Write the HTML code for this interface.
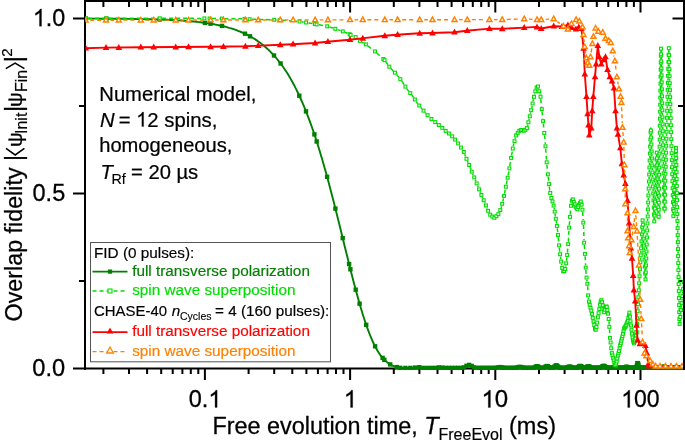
<!DOCTYPE html>
<html><head><meta charset="utf-8"><style>
html,body{margin:0;padding:0;background:#fff;width:685px;height:441px;overflow:hidden}
body{position:relative;font-family:"Liberation Sans",sans-serif}
svg{-webkit-font-smoothing:antialiased;will-change:transform}
</style></head><body>
<svg width="685" height="441" viewBox="0 0 685 441" style="position:absolute;left:0;top:0">
<defs><clipPath id="pc"><rect x="85.6" y="0" width="597.4" height="370"/></clipPath><rect id="sqf" x="-2.2" y="-2.2" width="4.4" height="4.4"/><path id="tri" d="M0,-3.6 L3.3,2.4 L-3.3,2.4 Z"/><path id="trio" d="M0,-2.7 L2.5,1.8 L-2.5,1.8 Z"/></defs>
<g fill="#000">
<rect x="84" y="0" width="601" height="2"/>
<rect x="84" y="0" width="2" height="370"/>
<rect x="683" y="0" width="2" height="370"/>
<rect x="84" y="367.5" width="601" height="2"/>
<rect x="102.4" y="369" width="2" height="5"/>
<rect x="102.4" y="2" width="2" height="5"/>
<rect x="128.0" y="369" width="2" height="5"/>
<rect x="128.0" y="2" width="2" height="5"/>
<rect x="146.1" y="369" width="2" height="5"/>
<rect x="146.1" y="2" width="2" height="5"/>
<rect x="160.2" y="369" width="2" height="5"/>
<rect x="160.2" y="2" width="2" height="5"/>
<rect x="171.7" y="369" width="2" height="5"/>
<rect x="171.7" y="2" width="2" height="5"/>
<rect x="181.4" y="369" width="2" height="5"/>
<rect x="181.4" y="2" width="2" height="5"/>
<rect x="189.8" y="369" width="2" height="5"/>
<rect x="189.8" y="2" width="2" height="5"/>
<rect x="197.3" y="369" width="2" height="5"/>
<rect x="197.3" y="2" width="2" height="5"/>
<rect x="203.9" y="369" width="2" height="11"/>
<rect x="203.9" y="2" width="2" height="10.5"/>
<rect x="247.6" y="369" width="2" height="5"/>
<rect x="247.6" y="2" width="2" height="5"/>
<rect x="273.2" y="369" width="2" height="5"/>
<rect x="273.2" y="2" width="2" height="5"/>
<rect x="291.3" y="369" width="2" height="5"/>
<rect x="291.3" y="2" width="2" height="5"/>
<rect x="305.4" y="369" width="2" height="5"/>
<rect x="305.4" y="2" width="2" height="5"/>
<rect x="316.9" y="369" width="2" height="5"/>
<rect x="316.9" y="2" width="2" height="5"/>
<rect x="326.6" y="369" width="2" height="5"/>
<rect x="326.6" y="2" width="2" height="5"/>
<rect x="335.0" y="369" width="2" height="5"/>
<rect x="335.0" y="2" width="2" height="5"/>
<rect x="342.5" y="369" width="2" height="5"/>
<rect x="342.5" y="2" width="2" height="5"/>
<rect x="349.1" y="369" width="2" height="11"/>
<rect x="349.1" y="2" width="2" height="10.5"/>
<rect x="392.8" y="369" width="2" height="5"/>
<rect x="392.8" y="2" width="2" height="5"/>
<rect x="418.4" y="369" width="2" height="5"/>
<rect x="418.4" y="2" width="2" height="5"/>
<rect x="436.5" y="369" width="2" height="5"/>
<rect x="436.5" y="2" width="2" height="5"/>
<rect x="450.6" y="369" width="2" height="5"/>
<rect x="450.6" y="2" width="2" height="5"/>
<rect x="462.1" y="369" width="2" height="5"/>
<rect x="462.1" y="2" width="2" height="5"/>
<rect x="471.8" y="369" width="2" height="5"/>
<rect x="471.8" y="2" width="2" height="5"/>
<rect x="480.2" y="369" width="2" height="5"/>
<rect x="480.2" y="2" width="2" height="5"/>
<rect x="487.7" y="369" width="2" height="5"/>
<rect x="487.7" y="2" width="2" height="5"/>
<rect x="494.3" y="369" width="2" height="11"/>
<rect x="494.3" y="2" width="2" height="10.5"/>
<rect x="538.0" y="369" width="2" height="5"/>
<rect x="538.0" y="2" width="2" height="5"/>
<rect x="563.6" y="369" width="2" height="5"/>
<rect x="563.6" y="2" width="2" height="5"/>
<rect x="581.7" y="369" width="2" height="5"/>
<rect x="581.7" y="2" width="2" height="5"/>
<rect x="595.8" y="369" width="2" height="5"/>
<rect x="595.8" y="2" width="2" height="5"/>
<rect x="607.3" y="369" width="2" height="5"/>
<rect x="607.3" y="2" width="2" height="5"/>
<rect x="617.0" y="369" width="2" height="5"/>
<rect x="617.0" y="2" width="2" height="5"/>
<rect x="625.4" y="369" width="2" height="5"/>
<rect x="625.4" y="2" width="2" height="5"/>
<rect x="632.9" y="369" width="2" height="5"/>
<rect x="632.9" y="2" width="2" height="5"/>
<rect x="639.5" y="369" width="2" height="11"/>
<rect x="639.5" y="2" width="2" height="10.5"/>
<rect x="73" y="367.5" width="11" height="2"/>
<rect x="672.5" y="367.5" width="11" height="2"/>
<rect x="73" y="192.5" width="11" height="2"/>
<rect x="672.5" y="192.5" width="11" height="2"/>
<rect x="73" y="17.5" width="11" height="2"/>
<rect x="672.5" y="17.5" width="11" height="2"/>
<rect x="79" y="280.0" width="5" height="2"/>
<rect x="678" y="280.0" width="5" height="2"/>
<rect x="79" y="105.0" width="5" height="2"/>
<rect x="678" y="105.0" width="5" height="2"/>
</g>
<g clip-path="url(#pc)">
<polyline points="85.0,18.6 86.5,18.6 88.0,18.6 89.5,18.6 91.0,18.6 92.5,18.6 94.0,18.6 95.5,18.6 97.0,18.6 98.5,18.6 100.0,18.7 101.5,18.7 103.0,18.7 104.5,18.7 106.0,18.7 107.5,18.7 109.0,18.7 110.5,18.7 112.0,18.7 113.5,18.7 115.0,18.8 116.5,18.8 118.0,18.8 119.5,18.8 121.0,18.8 122.5,18.8 124.0,18.8 125.5,18.9 127.0,18.9 128.5,18.9 130.0,18.9 131.5,18.9 133.0,18.9 134.5,19.0 136.0,19.0 137.5,19.0 139.0,19.0 140.5,19.1 142.0,19.1 143.5,19.1 145.0,19.2 146.5,19.2 148.0,19.2 149.5,19.3 151.0,19.3 152.5,19.3 154.0,19.4 155.5,19.4 157.0,19.5 158.5,19.5 160.0,19.6 161.5,19.6 163.0,19.7 164.5,19.7 166.0,19.8 167.5,19.8 169.0,19.9 170.5,20.0 172.0,20.0 173.5,20.1 175.0,20.2 176.5,20.3 178.0,20.4 179.5,20.4 181.0,20.5 182.5,20.6 184.0,20.7 185.5,20.9 187.0,21.0 188.5,21.1 190.0,21.2 191.5,21.3 193.0,21.5 194.5,21.6 196.0,21.8 197.5,21.9 199.0,22.1 200.5,22.3 202.0,22.5 203.5,22.7 205.0,22.9 206.5,23.1 208.0,23.3 209.5,23.5 211.0,23.8 212.5,24.0 214.0,24.3 215.5,24.6 217.0,24.9 218.5,25.2 220.0,25.5 221.5,25.8 223.0,26.2 224.5,26.5 226.0,26.9 227.5,27.3 229.0,27.8 230.5,28.2 232.0,28.7 233.5,29.2 235.0,29.7 236.5,30.2 238.0,30.8 239.5,31.4 241.0,32.0 242.5,32.6 244.0,33.3 245.5,34.0 247.0,34.7 248.5,35.5 250.0,36.3 251.5,37.1 253.0,38.0 254.5,38.9 256.0,39.9 257.5,40.9 259.0,42.0 260.5,43.1 262.0,44.2 263.5,45.4 265.0,46.7 266.5,48.0 268.0,49.4 269.5,50.8 271.0,52.3 272.5,53.9 274.0,55.5 275.5,57.2 277.0,59.0 278.5,60.8 280.0,62.7 281.5,64.7 283.0,66.8 284.5,69.0 286.0,71.3 287.5,73.6 289.0,76.1 290.5,78.6 292.0,81.3 293.5,84.0 295.0,86.9 296.5,89.9 298.0,93.0 299.5,96.1 301.0,99.5 302.5,102.9 304.0,106.4 305.5,110.1 307.0,113.9 308.5,117.8 310.0,121.8 311.5,126.0 313.0,130.3 314.5,134.7 316.0,139.3 317.5,144.0 319.0,148.8 320.5,153.7 322.0,158.8 323.5,163.9 325.0,169.2 326.5,174.6 328.0,180.1 329.5,185.7 331.0,191.4 332.5,197.2 334.0,203.0 335.5,209.0 337.0,215.0 338.5,221.0 340.0,227.1 341.5,233.2 343.0,239.3 344.5,245.4 346.0,251.5 347.5,257.6 349.0,263.7 350.5,269.7 352.0,275.6 353.5,281.4 355.0,287.1 356.5,292.7 358.0,298.1 359.5,303.4 361.0,308.5 362.5,313.5 364.0,318.2 365.5,322.7 367.0,327.1 368.5,331.2 370.0,335.0 371.5,338.6 373.0,342.0 374.5,345.1 376.0,348.0 377.5,350.7 379.0,353.1 380.5,355.3 382.0,357.2 383.5,358.9 385.0,360.5 386.5,361.8 388.0,363.0 389.5,364.0 391.0,364.9 392.5,365.6 394.0,366.2 395.5,366.7 397.0,367.1 398.5,367.4 400.0,367.7 401.0,367.9 401.7,367.9 402.4,367.9 403.1,367.9 403.8,367.9 404.5,367.9 405.2,367.9 405.9,367.9 406.6,367.9 407.3,367.9 408.0,367.9 408.7,367.9 409.4,367.9 410.1,367.9 410.8,367.9 411.5,367.9 412.2,367.9 412.9,367.9 413.6,367.9 414.3,367.8 415.0,367.6 415.7,367.4 416.4,367.3 417.1,367.2 417.8,367.1 418.5,367.1 419.2,367.2 419.9,367.4 420.6,367.5 421.3,367.7 422.0,367.8 422.7,367.9 423.4,367.9 424.1,367.9 424.8,367.9 425.5,367.9 426.2,367.9 426.9,367.9 427.6,367.9 428.3,367.9 429.0,367.9 429.7,367.9 430.4,367.9 431.1,367.9 431.8,367.9 432.5,367.9 433.2,367.9 433.9,367.9 434.6,367.9 435.3,367.9 436.0,367.8 436.7,367.7 437.4,367.6 438.1,367.5 438.8,367.4 439.5,367.3 440.2,367.3 440.9,367.3 441.6,367.4 442.3,367.6 443.0,367.7 443.7,367.8 444.4,367.9 445.1,367.9 445.8,367.9 446.5,367.9 447.2,367.9 447.9,367.9 448.6,367.9 449.3,367.9 450.0,367.9 450.7,367.9 451.4,367.9 452.1,367.9 452.8,367.9 453.5,367.9 454.2,367.9 454.9,367.9 455.6,367.9 456.3,367.9 457.0,367.9 457.7,367.9 458.4,367.9 459.1,367.9 459.8,367.9 460.5,367.9 461.2,367.9 461.9,367.9 462.6,367.8 463.3,367.7 464.0,367.3 464.7,366.9 465.4,366.5 466.1,366.0 466.8,365.6 467.5,365.2 468.2,365.0 468.9,364.9 469.6,365.0 470.3,365.1 471.0,365.5 471.7,365.9 472.4,366.3 473.1,366.8 473.8,367.2 474.5,367.6 475.2,367.8 475.9,367.9 476.6,367.9 477.3,367.9 478.0,367.9 478.7,367.9 479.4,367.9 480.1,367.9 480.8,367.9 481.5,367.9 482.2,367.9 482.9,367.9 483.6,367.9 484.3,367.9 485.0,367.9 485.7,367.9 486.4,367.9 487.1,367.9 487.8,367.9 488.5,367.9 489.2,367.9 489.9,367.9 490.6,367.9 491.3,367.9 492.0,367.9 492.7,367.9 493.4,367.9 494.1,367.9 494.8,367.9 495.5,367.9 496.2,367.8 496.9,367.6 497.6,367.5 498.3,367.3 499.0,367.2 499.7,367.1 500.4,367.1 501.1,367.2 501.8,367.3 502.5,367.5 503.2,367.7 503.9,367.8 504.6,367.9 505.3,367.9 506.0,367.9 506.7,367.9 507.4,367.9 508.1,367.9 508.8,367.9 509.5,367.9 510.2,367.9 510.9,367.9 511.6,367.9 512.3,367.9 513.0,367.9 513.7,367.9 514.4,367.9 515.1,367.9 515.8,367.8 516.5,367.7 517.2,367.5 517.9,367.3 518.6,367.1 519.3,366.9 520.0,366.9 520.7,366.9 521.4,367.1 522.1,367.3 522.8,367.5 523.5,367.7 524.2,367.8 524.9,367.9 525.6,367.9 526.3,367.9 527.0,367.9 527.7,367.9 528.4,367.9 529.1,367.9 529.8,367.9 530.5,367.9 531.2,367.9 531.9,367.9 532.6,367.9 533.3,367.9 534.0,367.8 534.7,367.4 535.4,366.9 536.1,366.4 536.8,366.1 537.5,366.2 538.2,366.6 538.9,367.1 539.6,367.6 540.3,367.9 541.0,367.9 541.7,367.9 542.4,367.9 543.1,367.9 543.8,367.9 544.5,367.5 545.2,366.9 545.9,366.3 546.6,366.0 547.3,365.9 548.0,366.3 548.7,366.9 549.4,367.5 550.1,367.8 550.8,367.9 551.5,367.9 552.2,367.9 552.9,367.9 553.6,367.6 554.3,366.9 555.0,366.1 555.7,365.5 556.4,365.3 557.1,365.6 557.8,366.3 558.5,367.1 559.2,367.7 559.9,367.9 560.6,367.9 561.3,367.9 562.0,367.9 562.7,367.9 563.4,367.9 564.1,367.9 564.8,367.9 565.5,367.9 566.2,367.9 566.9,367.8 567.6,367.5 568.3,367.0 569.0,366.7 569.7,366.6 570.4,366.7 571.1,367.0 571.8,367.5 572.5,367.8 573.2,367.9 573.9,367.9 574.6,367.9 575.3,367.9 576.0,367.9 576.7,367.9 577.4,367.7 578.1,367.2 578.8,366.6 579.5,366.1 580.2,365.9 580.9,366.1 581.6,366.6 582.3,367.2 583.0,367.7 583.7,367.9 584.4,367.9 585.1,367.9 585.8,367.7 586.5,367.2 587.2,366.7 587.9,366.4 588.6,366.3 589.3,366.5 590.0,367.0 590.7,367.5 591.4,367.8 592.1,367.9 592.8,367.9 593.5,367.9 594.2,367.9 594.9,367.9 595.6,367.9 596.3,367.9 597.0,367.9 597.7,367.9 598.4,367.9 599.1,367.9 599.8,367.9 600.5,367.8 601.2,367.5 601.9,366.9 602.6,366.3 603.3,365.9 604.0,366.0 604.7,366.3 605.4,366.9 606.1,367.5 606.8,367.9 607.5,367.9 608.2,367.9 608.9,367.9 609.6,367.9 610.3,367.9 611.0,367.9 611.7,367.9 612.4,367.9 613.1,367.9 613.8,367.9 614.5,367.9 615.2,367.9 615.9,367.9 616.6,367.9 617.3,367.9 618.0,367.9 618.7,367.9 619.4,367.9 620.1,367.9 620.8,367.9 621.5,367.9 622.2,367.9 622.9,367.9 623.6,367.9 624.3,367.8 625.0,367.5 625.7,367.1 626.4,366.9 627.1,367.0 627.8,367.2 628.5,367.6 629.2,367.9 629.9,367.9 630.6,367.9 631.3,367.9 632.0,367.9 632.7,367.9 633.4,367.9 634.1,367.9 634.8,367.9 635.5,367.9 636.2,367.8 636.9,365.1 637.6,362.5 638.3,364.1 639.0,367.4 639.7,367.9 640.4,367.9 641.1,367.9 641.8,367.9 642.5,367.9 643.2,367.9 643.9,367.9 644.6,367.9 645.3,367.9 646.0,367.9 646.7,367.9 647.4,367.9 648.1,367.9 648.8,367.9 649.5,367.9 650.2,367.9 650.9,367.9 651.6,367.9 652.3,367.9 653.0,367.9 653.7,367.9 654.4,367.9 655.1,367.9 655.8,367.9 656.5,367.9 657.2,367.9 657.9,367.9 658.6,367.9 659.3,367.9 660.0,367.9 660.7,367.9 661.4,367.9 662.1,367.6 662.8,367.2 663.5,367.0 664.2,366.9 664.9,367.1 665.6,367.5 666.3,367.8 667.0,367.9 667.7,367.9 668.4,367.9 669.1,367.9 669.8,367.9 670.5,367.9 671.2,367.9 671.9,367.9 672.6,367.9 673.3,367.9 674.0,367.7 674.7,367.4 675.4,367.2 676.1,367.1 676.8,367.2 677.5,367.5 678.2,367.8 678.9,367.9 679.6,367.9 680.3,367.9 681.0,367.9 681.7,367.9 682.4,367.9 683.1,367.9 683.8,367.9" fill="none" stroke="#008000" stroke-width="1.9" stroke-linejoin="round"/>
<g fill="#008000"><use href="#sqf" x="85.6" y="18.6"/><use href="#sqf" x="106.3" y="18.7"/><use href="#sqf" x="159.7" y="19.5"/><use href="#sqf" x="205.0" y="22.9"/><use href="#sqf" x="210.5" y="23.7"/><use href="#sqf" x="222.0" y="25.9"/><use href="#sqf" x="245.0" y="33.7"/><use href="#sqf" x="250.0" y="36.3"/><use href="#sqf" x="274.0" y="55.5"/><use href="#sqf" x="280.6" y="63.5"/><use href="#sqf" x="299.3" y="95.7"/><use href="#sqf" x="306.0" y="111.4"/><use href="#sqf" x="314.4" y="134.4"/><use href="#sqf" x="316.7" y="141.5"/><use href="#sqf" x="327.1" y="176.8"/><use href="#sqf" x="335.4" y="208.6"/><use href="#sqf" x="342.7" y="238.1"/><use href="#sqf" x="349.1" y="264.1"/><use href="#sqf" x="350.4" y="269.3"/><use href="#sqf" x="355.7" y="289.7"/><use href="#sqf" x="359.6" y="303.7"/><use href="#sqf" x="366.2" y="324.8"/><use href="#sqf" x="375.1" y="346.3"/><use href="#sqf" x="382.6" y="357.9"/><use href="#sqf" x="384.3" y="359.8"/><use href="#sqf" x="390.2" y="364.4"/><use href="#sqf" x="396.8" y="367.1"/><use href="#sqf" x="400.3" y="367.8"/><use href="#sqf" x="405.4" y="367.9"/><use href="#sqf" x="410.3" y="367.9"/><use href="#sqf" x="414.9" y="367.6"/><use href="#sqf" x="419.3" y="367.2"/><use href="#sqf" x="423.5" y="367.9"/><use href="#sqf" x="427.6" y="367.9"/><use href="#sqf" x="431.5" y="367.9"/><use href="#sqf" x="435.2" y="367.9"/><use href="#sqf" x="438.8" y="367.4"/><use href="#sqf" x="442.3" y="367.6"/><use href="#sqf" x="445.7" y="367.9"/><use href="#sqf" x="448.9" y="367.9"/><use href="#sqf" x="452.1" y="367.9"/><use href="#sqf" x="455.1" y="367.9"/><use href="#sqf" x="458.1" y="367.9"/><use href="#sqf" x="461.0" y="367.9"/><use href="#sqf" x="463.8" y="367.4"/><use href="#sqf" x="466.5" y="365.8"/><use href="#sqf" x="469.1" y="364.9"/><use href="#sqf" x="471.7" y="365.9"/><use href="#sqf" x="474.2" y="367.4"/><use href="#sqf" x="476.7" y="367.9"/><use href="#sqf" x="479.1" y="367.9"/><use href="#sqf" x="481.4" y="367.9"/><use href="#sqf" x="483.7" y="367.9"/><use href="#sqf" x="485.9" y="367.9"/><use href="#sqf" x="488.1" y="367.9"/><use href="#sqf" x="490.2" y="367.9"/><use href="#sqf" x="492.3" y="367.9"/><use href="#sqf" x="494.4" y="367.9"/><use href="#sqf" x="496.4" y="367.8"/><use href="#sqf" x="498.4" y="367.3"/><use href="#sqf" x="500.3" y="367.1"/><use href="#sqf" x="502.2" y="367.4"/><use href="#sqf" x="504.0" y="367.8"/><use href="#sqf" x="505.8" y="367.9"/><use href="#sqf" x="507.6" y="367.9"/><use href="#sqf" x="509.4" y="367.9"/><use href="#sqf" x="511.1" y="367.9"/><use href="#sqf" x="512.8" y="367.9"/><use href="#sqf" x="514.5" y="367.9"/><use href="#sqf" x="516.1" y="367.8"/><use href="#sqf" x="517.7" y="367.3"/><use href="#sqf" x="519.3" y="366.9"/><use href="#sqf" x="520.9" y="367.0"/><use href="#sqf" x="522.4" y="367.4"/><use href="#sqf" x="523.9" y="367.8"/><use href="#sqf" x="525.4" y="367.9"/><use href="#sqf" x="526.9" y="367.9"/><use href="#sqf" x="528.4" y="367.9"/><use href="#sqf" x="529.8" y="367.9"/><use href="#sqf" x="531.2" y="367.9"/><use href="#sqf" x="532.6" y="367.9"/><use href="#sqf" x="534.0" y="367.8"/><use href="#sqf" x="535.3" y="367.0"/><use href="#sqf" x="536.6" y="366.2"/><use href="#sqf" x="538.0" y="366.4"/><use href="#sqf" x="539.3" y="367.4"/><use href="#sqf" x="540.5" y="367.9"/><use href="#sqf" x="541.8" y="367.9"/><use href="#sqf" x="543.0" y="367.9"/><use href="#sqf" x="544.3" y="367.6"/><use href="#sqf" x="545.5" y="366.7"/><use href="#sqf" x="546.7" y="366.0"/><use href="#sqf" x="547.9" y="366.2"/><use href="#sqf" x="549.1" y="367.2"/><use href="#sqf" x="550.2" y="367.8"/><use href="#sqf" x="551.4" y="367.9"/><use href="#sqf" x="552.5" y="367.9"/><use href="#sqf" x="553.6" y="367.5"/><use href="#sqf" x="554.7" y="366.4"/><use href="#sqf" x="555.8" y="365.4"/><use href="#sqf" x="556.9" y="365.5"/><use href="#sqf" x="558.0" y="366.5"/><use href="#sqf" x="559.1" y="367.6"/><use href="#sqf" x="560.1" y="367.9"/><use href="#sqf" x="561.1" y="367.9"/><use href="#sqf" x="562.2" y="367.9"/><use href="#sqf" x="563.2" y="367.9"/><use href="#sqf" x="564.2" y="367.9"/><use href="#sqf" x="565.2" y="367.9"/><use href="#sqf" x="566.2" y="367.9"/><use href="#sqf" x="567.2" y="367.7"/><use href="#sqf" x="568.1" y="367.1"/><use href="#sqf" x="569.1" y="366.7"/><use href="#sqf" x="570.0" y="366.7"/><use href="#sqf" x="571.0" y="367.0"/><use href="#sqf" x="571.9" y="367.5"/><use href="#sqf" x="572.8" y="367.8"/><use href="#sqf" x="573.8" y="367.9"/><use href="#sqf" x="574.7" y="367.9"/><use href="#sqf" x="575.6" y="367.9"/><use href="#sqf" x="576.5" y="367.9"/><use href="#sqf" x="577.3" y="367.7"/><use href="#sqf" x="578.2" y="367.1"/><use href="#sqf" x="579.1" y="366.4"/><use href="#sqf" x="579.9" y="366.0"/><use href="#sqf" x="580.8" y="366.1"/><use href="#sqf" x="581.6" y="366.6"/><use href="#sqf" x="582.5" y="367.3"/><use href="#sqf" x="583.3" y="367.8"/><use href="#sqf" x="584.1" y="367.9"/><use href="#sqf" x="584.9" y="367.9"/><use href="#sqf" x="585.8" y="367.7"/><use href="#sqf" x="586.6" y="367.2"/><use href="#sqf" x="587.4" y="366.6"/><use href="#sqf" x="588.1" y="366.4"/><use href="#sqf" x="588.9" y="366.4"/><use href="#sqf" x="589.7" y="366.8"/><use href="#sqf" x="590.5" y="367.3"/><use href="#sqf" x="591.2" y="367.7"/><use href="#sqf" x="592.0" y="367.9"/><use href="#sqf" x="592.8" y="367.9"/><use href="#sqf" x="593.5" y="367.9"/><use href="#sqf" x="594.3" y="367.9"/><use href="#sqf" x="595.0" y="367.9"/><use href="#sqf" x="595.7" y="367.9"/><use href="#sqf" x="596.5" y="367.9"/><use href="#sqf" x="597.2" y="367.9"/><use href="#sqf" x="597.9" y="367.9"/><use href="#sqf" x="598.6" y="367.9"/><use href="#sqf" x="599.3" y="367.9"/><use href="#sqf" x="600.0" y="367.9"/><use href="#sqf" x="600.7" y="367.7"/><use href="#sqf" x="601.4" y="367.3"/><use href="#sqf" x="602.1" y="366.7"/><use href="#sqf" x="602.8" y="366.2"/><use href="#sqf" x="603.4" y="365.9"/><use href="#sqf" x="604.1" y="366.0"/><use href="#sqf" x="604.8" y="366.4"/><use href="#sqf" x="605.5" y="367.0"/><use href="#sqf" x="606.1" y="367.5"/><use href="#sqf" x="606.8" y="367.8"/><use href="#sqf" x="607.4" y="367.9"/><use href="#sqf" x="608.1" y="367.9"/><use href="#sqf" x="608.7" y="367.9"/><use href="#sqf" x="609.3" y="367.9"/><use href="#sqf" x="610.0" y="367.9"/><use href="#sqf" x="610.6" y="367.9"/><use href="#sqf" x="611.2" y="367.9"/><use href="#sqf" x="611.9" y="367.9"/><use href="#sqf" x="612.5" y="367.9"/><use href="#sqf" x="613.1" y="367.9"/><use href="#sqf" x="613.7" y="367.9"/><use href="#sqf" x="614.3" y="367.9"/><use href="#sqf" x="614.9" y="367.9"/><use href="#sqf" x="615.5" y="367.9"/><use href="#sqf" x="616.1" y="367.9"/><use href="#sqf" x="616.7" y="367.9"/><use href="#sqf" x="617.3" y="367.9"/><use href="#sqf" x="617.9" y="367.9"/><use href="#sqf" x="618.5" y="367.9"/><use href="#sqf" x="619.0" y="367.9"/><use href="#sqf" x="619.6" y="367.9"/><use href="#sqf" x="620.2" y="367.9"/><use href="#sqf" x="620.8" y="367.9"/><use href="#sqf" x="621.3" y="367.9"/><use href="#sqf" x="621.9" y="367.9"/><use href="#sqf" x="622.4" y="367.9"/><use href="#sqf" x="623.0" y="367.9"/><use href="#sqf" x="623.6" y="367.9"/><use href="#sqf" x="624.1" y="367.8"/><use href="#sqf" x="624.7" y="367.6"/><use href="#sqf" x="625.2" y="367.4"/><use href="#sqf" x="625.7" y="367.1"/><use href="#sqf" x="626.3" y="366.9"/><use href="#sqf" x="626.8" y="366.9"/><use href="#sqf" x="627.3" y="367.1"/><use href="#sqf" x="627.9" y="367.3"/><use href="#sqf" x="628.4" y="367.6"/><use href="#sqf" x="628.9" y="367.8"/><use href="#sqf" x="629.4" y="367.9"/><use href="#sqf" x="630.0" y="367.9"/><use href="#sqf" x="630.5" y="367.9"/><use href="#sqf" x="631.0" y="367.9"/><use href="#sqf" x="631.5" y="367.9"/><use href="#sqf" x="632.0" y="367.9"/><use href="#sqf" x="632.5" y="367.9"/><use href="#sqf" x="633.0" y="367.9"/><use href="#sqf" x="633.5" y="367.9"/><use href="#sqf" x="634.0" y="367.9"/><use href="#sqf" x="634.5" y="367.9"/><use href="#sqf" x="635.0" y="367.9"/><use href="#sqf" x="635.5" y="367.9"/><use href="#sqf" x="636.0" y="367.9"/><use href="#sqf" x="636.5" y="366.8"/><use href="#sqf" x="637.0" y="365.0"/><use href="#sqf" x="637.4" y="363.1"/><use href="#sqf" x="637.9" y="363.2"/><use href="#sqf" x="638.4" y="364.5"/><use href="#sqf" x="638.9" y="366.8"/><use href="#sqf" x="639.3" y="367.7"/><use href="#sqf" x="639.8" y="367.9"/><use href="#sqf" x="640.3" y="367.9"/><use href="#sqf" x="640.7" y="367.9"/><use href="#sqf" x="641.2" y="367.9"/><use href="#sqf" x="641.7" y="367.9"/><use href="#sqf" x="642.1" y="367.9"/><use href="#sqf" x="642.6" y="367.9"/><use href="#sqf" x="643.0" y="367.9"/><use href="#sqf" x="643.5" y="367.9"/><use href="#sqf" x="643.9" y="367.9"/><use href="#sqf" x="644.4" y="367.9"/><use href="#sqf" x="644.8" y="367.9"/><use href="#sqf" x="645.3" y="367.9"/><use href="#sqf" x="645.7" y="367.9"/><use href="#sqf" x="646.1" y="367.9"/><use href="#sqf" x="646.6" y="367.9"/><use href="#sqf" x="647.0" y="367.9"/><use href="#sqf" x="647.5" y="367.9"/><use href="#sqf" x="647.9" y="367.9"/><use href="#sqf" x="648.3" y="367.9"/><use href="#sqf" x="648.8" y="367.9"/><use href="#sqf" x="649.2" y="367.9"/><use href="#sqf" x="649.6" y="367.9"/><use href="#sqf" x="650.0" y="367.9"/><use href="#sqf" x="650.4" y="367.9"/><use href="#sqf" x="650.9" y="367.9"/><use href="#sqf" x="651.3" y="367.9"/><use href="#sqf" x="651.7" y="367.9"/><use href="#sqf" x="652.1" y="367.9"/><use href="#sqf" x="652.5" y="367.9"/><use href="#sqf" x="652.9" y="367.9"/><use href="#sqf" x="653.3" y="367.9"/><use href="#sqf" x="653.8" y="367.9"/><use href="#sqf" x="654.2" y="367.9"/><use href="#sqf" x="654.6" y="367.9"/><use href="#sqf" x="655.0" y="367.9"/><use href="#sqf" x="655.4" y="367.9"/><use href="#sqf" x="655.8" y="367.9"/><use href="#sqf" x="656.2" y="367.9"/><use href="#sqf" x="656.6" y="367.9"/><use href="#sqf" x="657.0" y="367.9"/><use href="#sqf" x="657.4" y="367.9"/><use href="#sqf" x="657.7" y="367.9"/><use href="#sqf" x="658.1" y="367.9"/><use href="#sqf" x="658.5" y="367.9"/><use href="#sqf" x="658.9" y="367.9"/><use href="#sqf" x="659.3" y="367.9"/><use href="#sqf" x="659.7" y="367.9"/><use href="#sqf" x="660.1" y="367.9"/><use href="#sqf" x="660.4" y="367.9"/><use href="#sqf" x="660.8" y="367.9"/><use href="#sqf" x="661.2" y="367.9"/><use href="#sqf" x="661.6" y="367.8"/><use href="#sqf" x="662.0" y="367.7"/><use href="#sqf" x="662.3" y="367.5"/><use href="#sqf" x="662.7" y="367.3"/><use href="#sqf" x="663.1" y="367.1"/><use href="#sqf" x="663.4" y="367.0"/><use href="#sqf" x="663.8" y="366.9"/><use href="#sqf" x="664.2" y="366.9"/><use href="#sqf" x="664.5" y="367.0"/><use href="#sqf" x="664.9" y="367.1"/><use href="#sqf" x="665.3" y="367.3"/><use href="#sqf" x="665.6" y="367.5"/><use href="#sqf" x="666.0" y="367.6"/><use href="#sqf" x="666.4" y="367.8"/><use href="#sqf" x="666.7" y="367.8"/><use href="#sqf" x="667.1" y="367.9"/><use href="#sqf" x="667.4" y="367.9"/><use href="#sqf" x="667.8" y="367.9"/><use href="#sqf" x="668.1" y="367.9"/><use href="#sqf" x="668.5" y="367.9"/><use href="#sqf" x="668.8" y="367.9"/><use href="#sqf" x="669.2" y="367.9"/><use href="#sqf" x="669.5" y="367.9"/><use href="#sqf" x="669.9" y="367.9"/><use href="#sqf" x="670.2" y="367.9"/><use href="#sqf" x="670.6" y="367.9"/><use href="#sqf" x="670.9" y="367.9"/><use href="#sqf" x="671.2" y="367.9"/><use href="#sqf" x="671.6" y="367.9"/><use href="#sqf" x="671.9" y="367.9"/><use href="#sqf" x="672.3" y="367.9"/><use href="#sqf" x="672.6" y="367.9"/><use href="#sqf" x="672.9" y="367.9"/><use href="#sqf" x="673.3" y="367.9"/><use href="#sqf" x="673.6" y="367.8"/><use href="#sqf" x="673.9" y="367.7"/><use href="#sqf" x="674.3" y="367.6"/><use href="#sqf" x="674.6" y="367.5"/><use href="#sqf" x="674.9" y="367.3"/><use href="#sqf" x="675.3" y="367.2"/><use href="#sqf" x="675.6" y="367.2"/><use href="#sqf" x="675.9" y="367.1"/><use href="#sqf" x="676.2" y="367.1"/><use href="#sqf" x="676.6" y="367.2"/><use href="#sqf" x="676.9" y="367.3"/><use href="#sqf" x="677.2" y="367.4"/><use href="#sqf" x="677.5" y="367.5"/><use href="#sqf" x="677.8" y="367.6"/><use href="#sqf" x="678.2" y="367.8"/><use href="#sqf" x="678.5" y="367.8"/><use href="#sqf" x="678.8" y="367.9"/><use href="#sqf" x="679.1" y="367.9"/><use href="#sqf" x="679.4" y="367.9"/><use href="#sqf" x="679.7" y="367.9"/><use href="#sqf" x="680.1" y="367.9"/><use href="#sqf" x="680.4" y="367.9"/><use href="#sqf" x="680.7" y="367.9"/><use href="#sqf" x="681.0" y="367.9"/><use href="#sqf" x="681.3" y="367.9"/><use href="#sqf" x="681.6" y="367.9"/><use href="#sqf" x="681.9" y="367.9"/><use href="#sqf" x="682.2" y="367.9"/><use href="#sqf" x="682.5" y="367.9"/><use href="#sqf" x="682.8" y="367.9"/><use href="#sqf" x="683.1" y="367.9"/><use href="#sqf" x="683.4" y="367.9"/><use href="#sqf" x="683.7" y="367.9"/></g>
<g fill="none" stroke="#00dd00" stroke-width="1.5" stroke-dasharray="4 3" stroke-linejoin="round"><polyline points="88.00,18.30 103.90,18.30"/><polyline points="108.70,18.30 157.30,18.30"/><polyline points="162.10,18.31 202.00,18.39"/><polyline points="212.00,18.52 219.60,18.58"/><polyline points="224.40,18.63 242.20,18.87"/><polyline points="252.00,19.26 271.80,19.74"/><polyline points="276.59,19.98 277.21,20.02"/><polyline points="281.99,20.36 297.11,21.34"/><polyline points="301.87,21.86 303.73,22.14"/><polyline points="308.47,22.91 312.43,23.59"/><polyline points="318.96,24.82 324.84,25.88"/><polyline points="329.49,27.01 333.01,28.09"/><polyline points="337.57,29.59 340.53,30.61"/><polyline points="345.02,32.31 347.38,33.29"/><polyline points="352.80,35.85 353.50,36.15"/><polyline points="357.52,38.67 358.28,39.33"/><polyline points="362.15,42.14 363.85,43.16"/><polyline points="367.80,45.86 373.10,49.94"/><polyline points="376.78,53.01 381.62,57.39"/><polyline points="386.01,62.14 387.89,64.76"/><polyline points="390.95,68.44 393.30,70.92"/><polyline points="396.61,74.41 398.86,77.35"/><polyline points="401.78,81.16 402.20,81.70 404.10,84.61"/><polyline points="406.73,88.63 407.30,89.50 408.75,91.28"/><polyline points="411.77,95.00 412.50,95.90 413.55,97.49"/><polyline points="416.20,101.50 416.80,102.40 417.80,103.67"/><polyline points="420.80,107.41 421.97,108.80"/><polyline points="425.08,112.45 425.97,113.44"/><polyline points="464.66,154.16 465.60,156.55"/><polyline points="467.43,160.99 468.20,162.79"/><polyline points="470.00,167.24 470.84,169.43"/><polyline points="472.68,173.86 473.27,175.19"/><polyline points="475.15,179.61 475.79,181.19"/><polyline points="477.58,185.64 478.18,187.13"/><polyline points="479.98,191.58 480.47,192.74"/><polyline points="482.35,197.15 482.50,197.50 482.73,198.02"/><polyline points="484.66,202.41 485.00,203.19"/><polyline points="486.82,207.63 487.21,208.59"/><polyline points="501.14,207.88 501.58,206.15"/><polyline points="502.76,201.49 503.50,198.60 503.56,198.29"/><polyline points="504.49,193.58 505.38,189.03"/><polyline points="506.32,184.32 507.17,180.07"/><polyline points="508.11,175.37 508.90,171.40 509.00,170.77"/><polyline points="509.78,166.03 510.73,160.27"/><polyline points="511.52,155.54 512.38,150.90"/><polyline points="513.25,146.18 513.60,144.30 513.83,143.51"/><polyline points="515.14,138.89 515.47,137.77"/><polyline points="527.53,125.80 527.80,124.63"/><polyline points="528.92,119.96 529.24,118.62"/><polyline points="530.33,113.94 530.66,112.52"/><polyline points="531.73,107.84 532.12,105.83"/><polyline points="533.05,101.12 533.43,99.19"/><polyline points="534.53,94.52 534.74,93.67"/><polyline points="539.89,93.53 540.11,94.35"/><polyline points="540.78,99.09 541.50,106.20 541.55,106.69"/><polyline points="542.04,111.46 542.80,118.76"/><polyline points="543.29,123.54 543.30,123.60 544.03,130.52"/><polyline points="544.53,135.29 545.10,140.70 545.33,143.91"/><polyline points="545.67,148.70 546.20,156.20 546.50,159.91"/><polyline points="546.90,164.70 547.30,169.60 547.59,171.94"/><polyline points="548.19,176.70 548.80,181.60 548.82,181.75"/><polyline points="549.31,186.52 549.70,190.20 549.78,190.61"/><polyline points="554.20,207.91 554.30,208.30 554.42,209.24"/><polyline points="555.05,214.00 555.20,215.10 555.43,216.41"/><polyline points="556.25,221.14 556.50,222.60 556.62,223.56"/><polyline points="557.22,228.32 557.70,232.10 557.76,232.66"/><polyline points="558.23,237.44 558.60,241.10 558.80,242.95"/><polyline points="559.31,247.72 559.70,251.30 559.78,251.85"/><polyline points="560.44,256.60 560.79,259.14"/><polyline points="561.50,263.89 561.74,265.45"/><polyline points="565.65,266.69 565.85,265.68"/><polyline points="566.47,260.92 566.89,257.37"/><polyline points="567.39,252.60 567.92,246.56"/><polyline points="568.33,241.77 568.93,230.03"/><polyline points="569.30,225.24 569.83,219.23"/><polyline points="570.25,214.45 570.78,208.17"/><polyline points="582.63,212.07 583.00,217.40 583.16,220.16"/><polyline points="583.44,224.95 583.70,229.40 584.04,240.24"/><polyline points="584.30,245.03 584.77,251.48"/><polyline points="585.12,256.27 585.30,258.80 585.63,265.19"/><polyline points="585.88,269.98 586.00,272.40 586.30,275.18"/><polyline points="586.84,279.95 587.04,281.42"/><polyline points="587.57,286.19 587.97,293.00"/><polyline points="588.34,297.79 588.45,299.23"/><polyline points="609.00,321.36 609.10,322.20 609.22,324.46"/><polyline points="609.48,329.25 609.81,335.42"/><polyline points="610.92,344.86 611.02,345.85"/><polyline points="636.63,329.80 636.75,327.61"/><polyline points="637.08,321.59 637.13,320.62"/><polyline points="637.40,315.82 637.52,313.63"/><polyline points="637.78,308.84 637.90,306.64"/><polyline points="638.16,301.85 638.28,299.65"/><polyline points="638.55,294.86 638.67,292.66"/><polyline points="638.93,287.87 639.05,285.67"/><polyline points="639.31,280.88 639.43,278.68"/><polyline points="639.69,273.89 639.81,271.69"/><polyline points="640.08,266.90 640.20,264.70"/><polyline points="640.46,259.91 640.58,257.71"/><polyline points="640.84,252.92 640.96,250.72"/><polyline points="641.23,245.93 641.35,243.73"/><polyline points="641.61,238.94 641.73,236.74"/><polyline points="641.99,231.95 642.11,229.75"/><polyline points="642.37,224.96 642.49,222.76"/><polyline points="642.75,220.03 642.85,222.23"/><polyline points="643.07,227.02 643.17,229.22"/><polyline points="643.39,234.01 643.49,236.21"/><polyline points="643.71,241.01 643.81,243.20"/><polyline points="644.03,248.00 644.13,250.20"/><polyline points="644.35,254.99 644.45,257.19"/><polyline points="644.67,261.99 644.77,264.18"/><polyline points="644.99,268.98 645.09,271.18"/><polyline points="645.32,275.97 645.36,277.04"/><polyline points="645.56,278.17 645.68,274.84"/><polyline points="645.85,270.04 645.92,267.84"/><polyline points="646.09,263.04 646.17,260.85"/><polyline points="646.34,256.05 646.41,253.85"/><polyline points="646.58,249.05 646.66,246.85"/><polyline points="646.82,242.06 646.90,239.86"/><polyline points="647.07,235.06 647.14,232.86"/><polyline points="647.31,228.07 647.39,225.87"/><polyline points="647.55,221.07 647.63,218.87"/><polyline points="647.80,214.07 647.88,211.88"/><polyline points="648.04,207.08 648.12,204.88"/><polyline points="648.29,200.08 648.36,197.88"/><polyline points="648.53,193.09 648.61,190.89"/><polyline points="648.77,186.09 648.85,183.89"/><polyline points="649.02,179.10 649.10,176.90"/><polyline points="649.26,172.10 649.34,169.90"/><polyline points="649.51,165.10 649.58,162.91"/><polyline points="649.75,158.11 649.83,155.91"/><polyline points="649.99,151.11 650.07,148.91"/><polyline points="650.24,144.12 650.31,141.92"/><polyline points="650.48,137.12 650.56,134.92"/><polyline points="650.73,130.12 650.80,128.00 650.80,128.07"/><polyline points="650.98,132.87 651.06,135.07"/><polyline points="651.24,139.87 651.32,142.06"/><polyline points="651.50,146.86 651.58,149.06"/><polyline points="651.76,153.86 651.84,156.05"/><polyline points="652.02,160.85 652.11,163.05"/><polyline points="652.28,167.85 652.37,170.04"/><polyline points="652.54,174.84 652.63,177.04"/><polyline points="652.80,181.84 652.89,184.03"/><polyline points="653.07,188.83 653.15,191.03"/><polyline points="653.33,195.83 653.41,198.03"/><polyline points="653.59,202.82 653.67,205.02"/><polyline points="653.85,209.82 653.93,212.02"/><polyline points="654.11,216.81 654.19,219.01"/><polyline points="654.36,220.19 654.44,217.99"/><polyline points="654.61,213.20 654.69,211.00"/><polyline points="654.86,206.20 654.94,204.00"/><polyline points="655.11,199.21 655.19,197.01"/><polyline points="655.36,192.21 655.44,190.01"/><polyline points="655.61,185.21 655.69,183.02"/><polyline points="655.86,178.22 655.94,176.02"/><polyline points="656.11,171.22 656.19,169.03"/><polyline points="656.36,164.23 656.44,162.03"/><polyline points="656.61,157.23 656.69,155.03"/><polyline points="656.85,153.76 656.91,155.96"/><polyline points="657.04,160.76 657.09,162.96"/><polyline points="657.22,167.76 657.28,169.96"/><polyline points="657.41,174.76 657.47,176.95"/><polyline points="657.60,181.75 657.66,183.95"/><polyline points="657.79,188.75 657.85,190.95"/><polyline points="657.98,195.75 658.03,197.95"/><polyline points="658.16,202.75 658.22,204.94"/><polyline points="658.35,209.74 658.41,211.94"/><polyline points="658.54,216.74 658.60,218.94"/><polyline points="658.67,214.26 658.70,212.06"/><polyline points="658.76,207.26 658.80,205.06"/><polyline points="658.86,200.26 658.89,198.06"/><polyline points="658.96,193.26 658.99,191.06"/><polyline points="659.06,186.26 659.09,184.06"/><polyline points="659.16,179.26 659.19,177.06"/><polyline points="659.26,172.26 659.29,170.07"/><polyline points="659.35,165.27 659.39,163.07"/><polyline points="659.45,158.27 659.48,156.07"/><polyline points="659.55,151.27 659.58,149.07"/><polyline points="659.65,144.27 659.68,142.07"/><polyline points="659.75,137.27 659.78,135.07"/><polyline points="659.85,130.27 659.88,128.07"/><polyline points="659.94,123.27 659.97,121.07"/><polyline points="660.04,116.27 660.07,114.07"/><polyline points="660.14,109.27 660.17,107.07"/><polyline points="660.24,102.27 660.27,100.07"/><polyline points="660.34,95.27 660.37,93.07"/><polyline points="660.43,88.27 660.47,86.07"/><polyline points="660.53,81.27 660.56,79.07"/><polyline points="660.63,74.27 660.66,72.07"/><polyline points="660.73,67.28 660.76,65.08"/><polyline points="660.83,60.28 660.86,58.08"/><polyline points="660.93,53.28 660.96,51.08"/><polyline points="661.04,49.72 661.08,51.92"/><polyline points="661.19,56.72 661.23,58.92"/><polyline points="661.34,63.72 661.38,65.92"/><polyline points="661.48,70.72 661.53,72.92"/><polyline points="661.63,77.72 661.68,79.92"/><polyline points="661.78,84.71 661.83,86.91"/><polyline points="661.93,91.71 661.98,93.91"/><polyline points="662.08,98.71 662.13,100.91"/><polyline points="662.23,105.71 662.28,107.91"/><polyline points="662.38,112.71 662.43,114.91"/><polyline points="662.53,119.71 662.58,121.91"/><polyline points="662.68,126.71 662.73,128.90"/><polyline points="662.83,133.70 662.88,135.90"/><polyline points="662.98,140.70 663.03,142.90"/><polyline points="663.13,147.70 663.17,149.90"/><polyline points="663.28,154.70 663.32,156.90"/><polyline points="663.43,161.70 663.47,163.90"/><polyline points="663.58,168.70 663.62,170.89"/><polyline points="663.73,175.69 663.77,177.89"/><polyline points="663.87,182.69 663.92,184.89"/><polyline points="664.02,189.69 664.07,191.89"/><polyline points="664.17,196.69 664.22,198.89"/><polyline points="664.32,203.69 664.37,205.89"/><polyline points="664.47,210.69 664.50,212.00 664.52,211.11"/><polyline points="664.65,206.32 664.71,204.12"/><polyline points="664.83,199.32 664.89,197.12"/><polyline points="665.02,192.32 665.07,190.12"/><polyline points="665.20,185.32 665.26,183.12"/><polyline points="665.38,178.33 665.44,176.13"/><polyline points="665.57,171.33 665.62,169.13"/><polyline points="665.75,164.33 665.81,162.13"/><polyline points="665.93,157.33 665.99,155.13"/><polyline points="666.12,150.34 666.17,148.14"/><polyline points="666.30,143.34 666.36,141.14"/><polyline points="666.48,136.34 666.54,134.14"/><polyline points="666.67,129.34 666.72,127.14"/><polyline points="666.85,122.35 666.91,120.15"/><polyline points="667.03,115.35 667.09,113.15"/><polyline points="667.22,108.35 667.28,106.15"/><polyline points="667.40,101.35 667.46,99.15"/><polyline points="667.58,94.35 667.64,92.16"/><polyline points="667.77,87.36 667.83,85.16"/><polyline points="667.95,80.36 668.01,78.16"/><polyline points="668.14,73.36 668.19,71.16"/><polyline points="668.32,66.36 668.38,64.17"/><polyline points="668.50,59.37 668.56,57.17"/><polyline points="668.69,52.37 668.73,50.63"/><polyline points="668.86,50.17 668.93,52.83"/><polyline points="669.06,57.63 669.12,59.82"/><polyline points="669.25,64.62 669.31,66.82"/><polyline points="669.44,71.62 669.50,73.82"/><polyline points="669.63,78.62 669.69,80.82"/><polyline points="669.82,85.62 669.88,87.81"/><polyline points="670.01,92.61 670.07,94.81"/><polyline points="670.20,99.61 670.26,101.81"/><polyline points="670.40,106.61 670.46,108.81"/><polyline points="670.59,113.60 670.65,115.80"/><polyline points="670.78,120.60 670.84,122.80"/><polyline points="670.97,127.60 671.03,129.80"/><polyline points="671.16,134.60 671.22,136.80"/><polyline points="671.35,141.59 671.41,143.79"/><polyline points="671.54,148.59 671.60,150.79"/><polyline points="671.73,155.59 671.79,157.79"/><polyline points="671.92,162.59 671.98,164.79"/><polyline points="672.11,169.58 672.17,171.78"/><polyline points="672.30,176.58 672.36,178.78"/><polyline points="672.49,183.58 672.55,185.78"/><polyline points="672.68,190.58 672.74,192.78"/><polyline points="672.87,197.57 672.93,199.77"/><polyline points="673.06,204.57 673.12,206.77"/><polyline points="673.25,211.57 673.31,213.77"/><polyline points="673.46,215.43 673.54,213.24"/><polyline points="673.71,208.44 673.79,206.24"/><polyline points="673.97,201.44 674.05,199.25"/><polyline points="674.23,194.45 674.31,192.25"/><polyline points="674.48,187.45 674.56,185.25"/><polyline points="674.74,180.46 674.82,178.26"/><polyline points="674.99,173.46 675.07,171.26"/><polyline points="675.25,166.47 675.33,164.27"/><polyline points="675.51,159.47 675.59,157.27"/><polyline points="675.76,152.48 675.84,150.28"/><polyline points="676.01,146.52 676.05,148.72"/><polyline points="676.15,153.52 676.19,155.72"/><polyline points="676.28,160.52 676.33,162.72"/><polyline points="676.42,167.51 676.46,169.71"/><polyline points="676.56,174.51 676.60,176.71"/><polyline points="676.69,181.51 676.74,183.71"/><polyline points="676.83,188.51 676.87,190.71"/><polyline points="676.97,195.51 677.01,197.71"/><polyline points="677.10,202.51 677.15,204.71"/><polyline points="677.24,209.51 677.28,211.71"/><polyline points="677.38,216.51 677.42,218.71"/><polyline points="677.52,223.50 677.56,225.70"/><polyline points="677.65,230.50 677.70,232.70"/><polyline points="677.79,237.50 677.83,239.70"/><polyline points="677.93,244.50 677.97,246.70"/><polyline points="678.06,251.50 678.11,253.70"/><polyline points="678.20,258.50 678.24,260.70"/><polyline points="678.34,265.50 678.38,267.70"/><polyline points="678.47,272.49 678.52,274.69"/><polyline points="678.61,279.49 678.65,281.69"/><polyline points="678.75,286.49 678.79,288.69"/><polyline points="678.88,293.49 678.93,295.69"/><polyline points="679.02,300.49 679.06,302.69"/><polyline points="679.16,307.49 679.20,309.69"/><polyline points="679.29,314.49 679.34,316.69"/><polyline points="679.43,321.49 679.47,323.69"/><polyline points="679.85,321.53 680.07,319.34"/><polyline points="680.54,314.57 680.76,312.38"/><polyline points="681.24,307.60 681.46,305.41"/><polyline points="681.94,300.64 682.16,298.45"/><polyline points="682.63,293.67 682.85,291.48"/><polyline points="683.33,286.71 683.55,284.52"/></g>
<g fill="#fff" stroke="#00dd00" stroke-width="1.1"><rect x="84.15" y="16.85" width="2.9" height="2.9"/><rect x="104.85" y="16.85" width="2.9" height="2.9"/><rect x="158.25" y="16.85" width="2.9" height="2.9"/><rect x="202.95" y="16.95" width="2.9" height="2.9"/><rect x="208.15" y="17.05" width="2.9" height="2.9"/><rect x="220.55" y="17.15" width="2.9" height="2.9"/><rect x="243.15" y="17.45" width="2.9" height="2.9"/><rect x="248.15" y="17.75" width="2.9" height="2.9"/><rect x="272.75" y="18.35" width="2.9" height="2.9"/><rect x="278.15" y="18.75" width="2.9" height="2.9"/><rect x="298.05" y="20.05" width="2.9" height="2.9"/><rect x="304.65" y="21.05" width="2.9" height="2.9"/><rect x="313.35" y="22.55" width="2.9" height="2.9"/><rect x="315.15" y="22.95" width="2.9" height="2.9"/><rect x="325.75" y="24.85" width="2.9" height="2.9"/><rect x="333.85" y="27.35" width="2.9" height="2.9"/><rect x="341.35" y="29.95" width="2.9" height="2.9"/><rect x="348.15" y="32.75" width="2.9" height="2.9"/><rect x="349.15" y="33.45" width="2.9" height="2.9"/><rect x="354.25" y="35.65" width="2.9" height="2.9"/><rect x="358.65" y="39.45" width="2.9" height="2.9"/><rect x="364.45" y="42.95" width="2.9" height="2.9"/><rect x="373.55" y="49.95" width="2.9" height="2.9"/><rect x="381.95" y="57.55" width="2.9" height="2.9"/><rect x="383.15" y="58.75" width="2.9" height="2.9"/><rect x="387.85" y="65.25" width="2.9" height="2.9"/><rect x="393.51" y="71.22" width="2.9" height="2.9"/><rect x="398.87" y="77.80" width="2.9" height="2.9"/><rect x="403.97" y="85.17" width="2.9" height="2.9"/><rect x="408.81" y="91.69" width="2.9" height="2.9"/><rect x="413.43" y="98.04" width="2.9" height="2.9"/><rect x="417.84" y="104.10" width="2.9" height="2.9"/><rect x="422.07" y="109.18" width="2.9" height="2.9"/><rect x="426.12" y="113.78" width="2.9" height="2.9"/><rect x="430.01" y="117.50" width="2.9" height="2.9"/><rect x="433.76" y="120.67" width="2.9" height="2.9"/><rect x="437.37" y="123.57" width="2.9" height="2.9"/><rect x="440.85" y="126.40" width="2.9" height="2.9"/><rect x="444.22" y="129.45" width="2.9" height="2.9"/><rect x="447.48" y="132.06" width="2.9" height="2.9"/><rect x="450.63" y="134.93" width="2.9" height="2.9"/><rect x="453.68" y="138.14" width="2.9" height="2.9"/><rect x="456.65" y="142.00" width="2.9" height="2.9"/><rect x="459.52" y="146.14" width="2.9" height="2.9"/><rect x="462.32" y="150.48" width="2.9" height="2.9"/><rect x="465.04" y="157.33" width="2.9" height="2.9"/><rect x="467.69" y="163.55" width="2.9" height="2.9"/><rect x="470.27" y="170.22" width="2.9" height="2.9"/><rect x="472.78" y="175.94" width="2.9" height="2.9"/><rect x="475.23" y="181.97" width="2.9" height="2.9"/><rect x="477.62" y="187.90" width="2.9" height="2.9"/><rect x="479.96" y="193.49" width="2.9" height="2.9"/><rect x="482.24" y="198.77" width="2.9" height="2.9"/><rect x="484.47" y="203.95" width="2.9" height="2.9"/><rect x="486.66" y="209.37" width="2.9" height="2.9"/><rect x="488.79" y="213.27" width="2.9" height="2.9"/><rect x="490.88" y="215.14" width="2.9" height="2.9"/><rect x="492.93" y="216.34" width="2.9" height="2.9"/><rect x="494.93" y="214.75" width="2.9" height="2.9"/><rect x="496.90" y="212.71" width="2.9" height="2.9"/><rect x="498.83" y="208.66" width="2.9" height="2.9"/><rect x="500.72" y="202.37" width="2.9" height="2.9"/><rect x="502.58" y="194.48" width="2.9" height="2.9"/><rect x="504.40" y="185.23" width="2.9" height="2.9"/><rect x="506.19" y="176.27" width="2.9" height="2.9"/><rect x="507.94" y="166.95" width="2.9" height="2.9"/><rect x="509.67" y="156.45" width="2.9" height="2.9"/><rect x="511.37" y="147.09" width="2.9" height="2.9"/><rect x="513.04" y="139.75" width="2.9" height="2.9"/><rect x="514.68" y="134.01" width="2.9" height="2.9"/><rect x="516.29" y="131.47" width="2.9" height="2.9"/><rect x="517.88" y="129.35" width="2.9" height="2.9"/><rect x="519.44" y="128.66" width="2.9" height="2.9"/><rect x="520.98" y="128.67" width="2.9" height="2.9"/><rect x="522.50" y="129.24" width="2.9" height="2.9"/><rect x="523.99" y="128.36" width="2.9" height="2.9"/><rect x="525.46" y="126.65" width="2.9" height="2.9"/><rect x="526.91" y="120.84" width="2.9" height="2.9"/><rect x="528.34" y="114.83" width="2.9" height="2.9"/><rect x="529.75" y="108.73" width="2.9" height="2.9"/><rect x="531.14" y="102.03" width="2.9" height="2.9"/><rect x="532.51" y="95.40" width="2.9" height="2.9"/><rect x="533.86" y="89.89" width="2.9" height="2.9"/><rect x="535.19" y="86.11" width="2.9" height="2.9"/><rect x="536.50" y="85.05" width="2.9" height="2.9"/><rect x="537.80" y="89.77" width="2.9" height="2.9"/><rect x="539.08" y="95.25" width="2.9" height="2.9"/><rect x="540.35" y="107.63" width="2.9" height="2.9"/><rect x="541.60" y="119.70" width="2.9" height="2.9"/><rect x="542.83" y="131.46" width="2.9" height="2.9"/><rect x="544.05" y="144.86" width="2.9" height="2.9"/><rect x="545.25" y="160.86" width="2.9" height="2.9"/><rect x="546.44" y="172.87" width="2.9" height="2.9"/><rect x="547.62" y="182.68" width="2.9" height="2.9"/><rect x="548.78" y="191.51" width="2.9" height="2.9"/><rect x="549.92" y="196.50" width="2.9" height="2.9"/><rect x="551.06" y="199.96" width="2.9" height="2.9"/><rect x="552.18" y="204.12" width="2.9" height="2.9"/><rect x="553.29" y="210.17" width="2.9" height="2.9"/><rect x="554.39" y="217.32" width="2.9" height="2.9"/><rect x="555.47" y="224.49" width="2.9" height="2.9"/><rect x="556.55" y="233.60" width="2.9" height="2.9"/><rect x="557.61" y="243.89" width="2.9" height="2.9"/><rect x="558.66" y="252.78" width="2.9" height="2.9"/><rect x="559.70" y="260.06" width="2.9" height="2.9"/><rect x="560.73" y="266.36" width="2.9" height="2.9"/><rect x="561.74" y="269.88" width="2.9" height="2.9"/><rect x="562.75" y="269.63" width="2.9" height="2.9"/><rect x="563.75" y="267.60" width="2.9" height="2.9"/><rect x="564.74" y="261.85" width="2.9" height="2.9"/><rect x="565.72" y="253.54" width="2.9" height="2.9"/><rect x="566.68" y="242.71" width="2.9" height="2.9"/><rect x="567.64" y="226.18" width="2.9" height="2.9"/><rect x="568.59" y="215.39" width="2.9" height="2.9"/><rect x="569.53" y="204.33" width="2.9" height="2.9"/><rect x="570.47" y="199.24" width="2.9" height="2.9"/><rect x="571.39" y="197.89" width="2.9" height="2.9"/><rect x="572.31" y="200.46" width="2.9" height="2.9"/><rect x="573.21" y="202.84" width="2.9" height="2.9"/><rect x="574.11" y="205.14" width="2.9" height="2.9"/><rect x="575.00" y="206.65" width="2.9" height="2.9"/><rect x="575.88" y="207.86" width="2.9" height="2.9"/><rect x="576.76" y="205.52" width="2.9" height="2.9"/><rect x="577.63" y="203.14" width="2.9" height="2.9"/><rect x="578.49" y="201.60" width="2.9" height="2.9"/><rect x="579.34" y="200.07" width="2.9" height="2.9"/><rect x="580.18" y="203.21" width="2.9" height="2.9"/><rect x="581.02" y="208.23" width="2.9" height="2.9"/><rect x="581.85" y="221.11" width="2.9" height="2.9"/><rect x="582.67" y="241.19" width="2.9" height="2.9"/><rect x="583.49" y="252.43" width="2.9" height="2.9"/><rect x="584.30" y="266.14" width="2.9" height="2.9"/><rect x="585.11" y="276.11" width="2.9" height="2.9"/><rect x="585.90" y="282.35" width="2.9" height="2.9"/><rect x="586.69" y="293.94" width="2.9" height="2.9"/><rect x="587.48" y="300.13" width="2.9" height="2.9"/><rect x="588.26" y="303.34" width="2.9" height="2.9"/><rect x="589.03" y="306.33" width="2.9" height="2.9"/><rect x="589.80" y="309.17" width="2.9" height="2.9"/><rect x="590.56" y="312.44" width="2.9" height="2.9"/><rect x="591.31" y="316.34" width="2.9" height="2.9"/><rect x="592.06" y="319.97" width="2.9" height="2.9"/><rect x="592.81" y="323.54" width="2.9" height="2.9"/><rect x="593.54" y="327.42" width="2.9" height="2.9"/><rect x="594.28" y="328.29" width="2.9" height="2.9"/><rect x="595.00" y="325.49" width="2.9" height="2.9"/><rect x="595.73" y="321.10" width="2.9" height="2.9"/><rect x="596.44" y="315.90" width="2.9" height="2.9"/><rect x="597.15" y="311.78" width="2.9" height="2.9"/><rect x="597.86" y="307.65" width="2.9" height="2.9"/><rect x="598.56" y="303.27" width="2.9" height="2.9"/><rect x="599.26" y="300.20" width="2.9" height="2.9"/><rect x="599.95" y="298.76" width="2.9" height="2.9"/><rect x="600.64" y="300.68" width="2.9" height="2.9"/><rect x="601.32" y="303.94" width="2.9" height="2.9"/><rect x="602.00" y="307.43" width="2.9" height="2.9"/><rect x="602.67" y="310.77" width="2.9" height="2.9"/><rect x="603.34" y="308.19" width="2.9" height="2.9"/><rect x="604.00" y="305.79" width="2.9" height="2.9"/><rect x="604.66" y="305.08" width="2.9" height="2.9"/><rect x="605.32" y="305.37" width="2.9" height="2.9"/><rect x="605.97" y="308.53" width="2.9" height="2.9"/><rect x="606.62" y="312.23" width="2.9" height="2.9"/><rect x="607.26" y="317.53" width="2.9" height="2.9"/><rect x="607.90" y="325.41" width="2.9" height="2.9"/><rect x="608.53" y="336.36" width="2.9" height="2.9"/><rect x="609.16" y="341.03" width="2.9" height="2.9"/><rect x="609.79" y="346.79" width="2.9" height="2.9"/><rect x="610.41" y="351.66" width="2.9" height="2.9"/><rect x="611.03" y="354.04" width="2.9" height="2.9"/><rect x="611.65" y="356.46" width="2.9" height="2.9"/><rect x="612.26" y="359.01" width="2.9" height="2.9"/><rect x="612.86" y="361.31" width="2.9" height="2.9"/><rect x="613.47" y="363.17" width="2.9" height="2.9"/><rect x="614.07" y="363.73" width="2.9" height="2.9"/><rect x="614.66" y="362.04" width="2.9" height="2.9"/><rect x="615.26" y="360.10" width="2.9" height="2.9"/><rect x="615.84" y="357.00" width="2.9" height="2.9"/><rect x="616.43" y="354.05" width="2.9" height="2.9"/><rect x="617.01" y="351.85" width="2.9" height="2.9"/><rect x="617.59" y="349.67" width="2.9" height="2.9"/><rect x="618.17" y="346.73" width="2.9" height="2.9"/><rect x="618.74" y="343.73" width="2.9" height="2.9"/><rect x="619.31" y="341.42" width="2.9" height="2.9"/><rect x="619.87" y="339.29" width="2.9" height="2.9"/><rect x="620.44" y="337.06" width="2.9" height="2.9"/><rect x="621.00" y="334.72" width="2.9" height="2.9"/><rect x="621.55" y="332.29" width="2.9" height="2.9"/><rect x="622.11" y="329.65" width="2.9" height="2.9"/><rect x="622.66" y="327.04" width="2.9" height="2.9"/><rect x="623.20" y="326.24" width="2.9" height="2.9"/><rect x="623.75" y="325.44" width="2.9" height="2.9"/><rect x="624.29" y="324.64" width="2.9" height="2.9"/><rect x="624.83" y="323.36" width="2.9" height="2.9"/><rect x="625.36" y="322.02" width="2.9" height="2.9"/><rect x="625.89" y="320.69" width="2.9" height="2.9"/><rect x="626.42" y="319.18" width="2.9" height="2.9"/><rect x="626.95" y="316.48" width="2.9" height="2.9"/><rect x="627.47" y="313.80" width="2.9" height="2.9"/><rect x="627.99" y="311.14" width="2.9" height="2.9"/><rect x="628.51" y="315.19" width="2.9" height="2.9"/><rect x="629.03" y="319.82" width="2.9" height="2.9"/><rect x="629.54" y="324.05" width="2.9" height="2.9"/><rect x="630.05" y="328.26" width="2.9" height="2.9"/><rect x="630.56" y="332.17" width="2.9" height="2.9"/><rect x="631.06" y="336.06" width="2.9" height="2.9"/><rect x="631.57" y="338.92" width="2.9" height="2.9"/><rect x="632.07" y="340.46" width="2.9" height="2.9"/><rect x="632.57" y="341.91" width="2.9" height="2.9"/><rect x="633.06" y="340.50" width="2.9" height="2.9"/><rect x="633.55" y="339.09" width="2.9" height="2.9"/><rect x="634.04" y="337.04" width="2.9" height="2.9"/><rect x="634.53" y="333.99" width="2.9" height="2.9"/><rect x="635.02" y="330.96" width="2.9" height="2.9"/><rect x="635.50" y="322.53" width="2.9" height="2.9"/><rect x="635.05" y="330.75" width="2.9" height="2.9"/><rect x="635.43" y="323.76" width="2.9" height="2.9"/><rect x="635.82" y="316.77" width="2.9" height="2.9"/><rect x="636.20" y="309.78" width="2.9" height="2.9"/><rect x="636.58" y="302.79" width="2.9" height="2.9"/><rect x="636.96" y="295.80" width="2.9" height="2.9"/><rect x="637.35" y="288.81" width="2.9" height="2.9"/><rect x="637.73" y="281.82" width="2.9" height="2.9"/><rect x="638.11" y="274.83" width="2.9" height="2.9"/><rect x="638.50" y="267.84" width="2.9" height="2.9"/><rect x="638.88" y="260.85" width="2.9" height="2.9"/><rect x="639.26" y="253.87" width="2.9" height="2.9"/><rect x="639.64" y="246.88" width="2.9" height="2.9"/><rect x="640.03" y="239.89" width="2.9" height="2.9"/><rect x="640.41" y="232.90" width="2.9" height="2.9"/><rect x="640.79" y="225.91" width="2.9" height="2.9"/><rect x="641.18" y="218.92" width="2.9" height="2.9"/><rect x="641.51" y="223.17" width="2.9" height="2.9"/><rect x="641.83" y="230.17" width="2.9" height="2.9"/><rect x="642.15" y="237.16" width="2.9" height="2.9"/><rect x="642.47" y="244.15" width="2.9" height="2.9"/><rect x="642.79" y="251.14" width="2.9" height="2.9"/><rect x="643.11" y="258.14" width="2.9" height="2.9"/><rect x="643.43" y="265.13" width="2.9" height="2.9"/><rect x="643.75" y="272.12" width="2.9" height="2.9"/><rect x="644.07" y="277.98" width="2.9" height="2.9"/><rect x="644.31" y="270.99" width="2.9" height="2.9"/><rect x="644.56" y="263.99" width="2.9" height="2.9"/><rect x="644.80" y="257.00" width="2.9" height="2.9"/><rect x="645.05" y="250.00" width="2.9" height="2.9"/><rect x="645.29" y="243.01" width="2.9" height="2.9"/><rect x="645.53" y="236.01" width="2.9" height="2.9"/><rect x="645.78" y="229.01" width="2.9" height="2.9"/><rect x="646.02" y="222.02" width="2.9" height="2.9"/><rect x="646.27" y="215.02" width="2.9" height="2.9"/><rect x="646.51" y="208.03" width="2.9" height="2.9"/><rect x="646.75" y="201.03" width="2.9" height="2.9"/><rect x="647.00" y="194.04" width="2.9" height="2.9"/><rect x="647.24" y="187.04" width="2.9" height="2.9"/><rect x="647.48" y="180.04" width="2.9" height="2.9"/><rect x="647.73" y="173.05" width="2.9" height="2.9"/><rect x="647.97" y="166.05" width="2.9" height="2.9"/><rect x="648.22" y="159.06" width="2.9" height="2.9"/><rect x="648.46" y="152.06" width="2.9" height="2.9"/><rect x="648.70" y="145.07" width="2.9" height="2.9"/><rect x="648.95" y="138.07" width="2.9" height="2.9"/><rect x="649.19" y="131.07" width="2.9" height="2.9"/><rect x="649.44" y="129.02" width="2.9" height="2.9"/><rect x="649.70" y="136.02" width="2.9" height="2.9"/><rect x="649.96" y="143.01" width="2.9" height="2.9"/><rect x="650.22" y="150.01" width="2.9" height="2.9"/><rect x="650.48" y="157.00" width="2.9" height="2.9"/><rect x="650.74" y="164.00" width="2.9" height="2.9"/><rect x="651.00" y="170.99" width="2.9" height="2.9"/><rect x="651.27" y="177.99" width="2.9" height="2.9"/><rect x="651.53" y="184.98" width="2.9" height="2.9"/><rect x="651.79" y="191.98" width="2.9" height="2.9"/><rect x="652.05" y="198.97" width="2.9" height="2.9"/><rect x="652.31" y="205.97" width="2.9" height="2.9"/><rect x="652.57" y="212.96" width="2.9" height="2.9"/><rect x="652.83" y="219.96" width="2.9" height="2.9"/><rect x="653.08" y="214.15" width="2.9" height="2.9"/><rect x="653.33" y="207.15" width="2.9" height="2.9"/><rect x="653.58" y="200.15" width="2.9" height="2.9"/><rect x="653.83" y="193.16" width="2.9" height="2.9"/><rect x="654.08" y="186.16" width="2.9" height="2.9"/><rect x="654.33" y="179.17" width="2.9" height="2.9"/><rect x="654.58" y="172.17" width="2.9" height="2.9"/><rect x="654.83" y="165.18" width="2.9" height="2.9"/><rect x="655.08" y="158.18" width="2.9" height="2.9"/><rect x="655.33" y="151.19" width="2.9" height="2.9"/><rect x="655.52" y="156.91" width="2.9" height="2.9"/><rect x="655.71" y="163.91" width="2.9" height="2.9"/><rect x="655.90" y="170.91" width="2.9" height="2.9"/><rect x="656.08" y="177.90" width="2.9" height="2.9"/><rect x="656.27" y="184.90" width="2.9" height="2.9"/><rect x="656.46" y="191.90" width="2.9" height="2.9"/><rect x="656.65" y="198.90" width="2.9" height="2.9"/><rect x="656.84" y="205.89" width="2.9" height="2.9"/><rect x="657.02" y="212.89" width="2.9" height="2.9"/><rect x="657.18" y="215.21" width="2.9" height="2.9"/><rect x="657.28" y="208.21" width="2.9" height="2.9"/><rect x="657.38" y="201.21" width="2.9" height="2.9"/><rect x="657.48" y="194.21" width="2.9" height="2.9"/><rect x="657.58" y="187.21" width="2.9" height="2.9"/><rect x="657.67" y="180.21" width="2.9" height="2.9"/><rect x="657.77" y="173.21" width="2.9" height="2.9"/><rect x="657.87" y="166.22" width="2.9" height="2.9"/><rect x="657.97" y="159.22" width="2.9" height="2.9"/><rect x="658.07" y="152.22" width="2.9" height="2.9"/><rect x="658.17" y="145.22" width="2.9" height="2.9"/><rect x="658.26" y="138.22" width="2.9" height="2.9"/><rect x="658.36" y="131.22" width="2.9" height="2.9"/><rect x="658.46" y="124.22" width="2.9" height="2.9"/><rect x="658.56" y="117.22" width="2.9" height="2.9"/><rect x="658.66" y="110.22" width="2.9" height="2.9"/><rect x="658.75" y="103.22" width="2.9" height="2.9"/><rect x="658.85" y="96.22" width="2.9" height="2.9"/><rect x="658.95" y="89.22" width="2.9" height="2.9"/><rect x="659.05" y="82.22" width="2.9" height="2.9"/><rect x="659.15" y="75.22" width="2.9" height="2.9"/><rect x="659.25" y="68.22" width="2.9" height="2.9"/><rect x="659.34" y="61.23" width="2.9" height="2.9"/><rect x="659.44" y="54.23" width="2.9" height="2.9"/><rect x="659.54" y="47.23" width="2.9" height="2.9"/><rect x="659.68" y="52.87" width="2.9" height="2.9"/><rect x="659.83" y="59.87" width="2.9" height="2.9"/><rect x="659.98" y="66.87" width="2.9" height="2.9"/><rect x="660.13" y="73.87" width="2.9" height="2.9"/><rect x="660.28" y="80.87" width="2.9" height="2.9"/><rect x="660.43" y="87.86" width="2.9" height="2.9"/><rect x="660.58" y="94.86" width="2.9" height="2.9"/><rect x="660.73" y="101.86" width="2.9" height="2.9"/><rect x="660.88" y="108.86" width="2.9" height="2.9"/><rect x="661.03" y="115.86" width="2.9" height="2.9"/><rect x="661.18" y="122.86" width="2.9" height="2.9"/><rect x="661.33" y="129.85" width="2.9" height="2.9"/><rect x="661.48" y="136.85" width="2.9" height="2.9"/><rect x="661.63" y="143.85" width="2.9" height="2.9"/><rect x="661.78" y="150.85" width="2.9" height="2.9"/><rect x="661.93" y="157.85" width="2.9" height="2.9"/><rect x="662.07" y="164.85" width="2.9" height="2.9"/><rect x="662.22" y="171.84" width="2.9" height="2.9"/><rect x="662.37" y="178.84" width="2.9" height="2.9"/><rect x="662.52" y="185.84" width="2.9" height="2.9"/><rect x="662.67" y="192.84" width="2.9" height="2.9"/><rect x="662.82" y="199.84" width="2.9" height="2.9"/><rect x="662.97" y="206.84" width="2.9" height="2.9"/><rect x="663.14" y="207.27" width="2.9" height="2.9"/><rect x="663.32" y="200.27" width="2.9" height="2.9"/><rect x="663.50" y="193.27" width="2.9" height="2.9"/><rect x="663.69" y="186.27" width="2.9" height="2.9"/><rect x="663.87" y="179.28" width="2.9" height="2.9"/><rect x="664.05" y="172.28" width="2.9" height="2.9"/><rect x="664.24" y="165.28" width="2.9" height="2.9"/><rect x="664.42" y="158.28" width="2.9" height="2.9"/><rect x="664.60" y="151.28" width="2.9" height="2.9"/><rect x="664.79" y="144.29" width="2.9" height="2.9"/><rect x="664.97" y="137.29" width="2.9" height="2.9"/><rect x="665.15" y="130.29" width="2.9" height="2.9"/><rect x="665.34" y="123.29" width="2.9" height="2.9"/><rect x="665.52" y="116.30" width="2.9" height="2.9"/><rect x="665.70" y="109.30" width="2.9" height="2.9"/><rect x="665.89" y="102.30" width="2.9" height="2.9"/><rect x="666.07" y="95.30" width="2.9" height="2.9"/><rect x="666.26" y="88.31" width="2.9" height="2.9"/><rect x="666.44" y="81.31" width="2.9" height="2.9"/><rect x="666.62" y="74.31" width="2.9" height="2.9"/><rect x="666.81" y="67.31" width="2.9" height="2.9"/><rect x="666.99" y="60.32" width="2.9" height="2.9"/><rect x="667.17" y="53.32" width="2.9" height="2.9"/><rect x="667.36" y="46.78" width="2.9" height="2.9"/><rect x="667.55" y="53.78" width="2.9" height="2.9"/><rect x="667.74" y="60.77" width="2.9" height="2.9"/><rect x="667.93" y="67.77" width="2.9" height="2.9"/><rect x="668.12" y="74.77" width="2.9" height="2.9"/><rect x="668.31" y="81.77" width="2.9" height="2.9"/><rect x="668.50" y="88.76" width="2.9" height="2.9"/><rect x="668.69" y="95.76" width="2.9" height="2.9"/><rect x="668.88" y="102.76" width="2.9" height="2.9"/><rect x="669.07" y="109.76" width="2.9" height="2.9"/><rect x="669.26" y="116.75" width="2.9" height="2.9"/><rect x="669.45" y="123.75" width="2.9" height="2.9"/><rect x="669.64" y="130.75" width="2.9" height="2.9"/><rect x="669.83" y="137.75" width="2.9" height="2.9"/><rect x="670.02" y="144.74" width="2.9" height="2.9"/><rect x="670.21" y="151.74" width="2.9" height="2.9"/><rect x="670.40" y="158.74" width="2.9" height="2.9"/><rect x="670.59" y="165.74" width="2.9" height="2.9"/><rect x="670.78" y="172.73" width="2.9" height="2.9"/><rect x="670.98" y="179.73" width="2.9" height="2.9"/><rect x="671.17" y="186.73" width="2.9" height="2.9"/><rect x="671.36" y="193.72" width="2.9" height="2.9"/><rect x="671.55" y="200.72" width="2.9" height="2.9"/><rect x="671.74" y="207.72" width="2.9" height="2.9"/><rect x="671.93" y="214.72" width="2.9" height="2.9"/><rect x="672.18" y="209.39" width="2.9" height="2.9"/><rect x="672.43" y="202.39" width="2.9" height="2.9"/><rect x="672.69" y="195.40" width="2.9" height="2.9"/><rect x="672.94" y="188.40" width="2.9" height="2.9"/><rect x="673.20" y="181.41" width="2.9" height="2.9"/><rect x="673.46" y="174.41" width="2.9" height="2.9"/><rect x="673.71" y="167.42" width="2.9" height="2.9"/><rect x="673.97" y="160.42" width="2.9" height="2.9"/><rect x="674.23" y="153.42" width="2.9" height="2.9"/><rect x="674.48" y="146.43" width="2.9" height="2.9"/><rect x="674.65" y="149.67" width="2.9" height="2.9"/><rect x="674.79" y="156.67" width="2.9" height="2.9"/><rect x="674.92" y="163.67" width="2.9" height="2.9"/><rect x="675.06" y="170.66" width="2.9" height="2.9"/><rect x="675.20" y="177.66" width="2.9" height="2.9"/><rect x="675.33" y="184.66" width="2.9" height="2.9"/><rect x="675.47" y="191.66" width="2.9" height="2.9"/><rect x="675.61" y="198.66" width="2.9" height="2.9"/><rect x="675.74" y="205.66" width="2.9" height="2.9"/><rect x="675.88" y="212.66" width="2.9" height="2.9"/><rect x="676.02" y="219.65" width="2.9" height="2.9"/><rect x="676.16" y="226.65" width="2.9" height="2.9"/><rect x="676.29" y="233.65" width="2.9" height="2.9"/><rect x="676.43" y="240.65" width="2.9" height="2.9"/><rect x="676.57" y="247.65" width="2.9" height="2.9"/><rect x="676.70" y="254.65" width="2.9" height="2.9"/><rect x="676.84" y="261.65" width="2.9" height="2.9"/><rect x="676.98" y="268.65" width="2.9" height="2.9"/><rect x="677.11" y="275.64" width="2.9" height="2.9"/><rect x="677.25" y="282.64" width="2.9" height="2.9"/><rect x="677.39" y="289.64" width="2.9" height="2.9"/><rect x="677.52" y="296.64" width="2.9" height="2.9"/><rect x="677.66" y="303.64" width="2.9" height="2.9"/><rect x="677.80" y="310.64" width="2.9" height="2.9"/><rect x="677.93" y="317.64" width="2.9" height="2.9"/><rect x="678.16" y="322.47" width="2.9" height="2.9"/><rect x="678.85" y="315.51" width="2.9" height="2.9"/><rect x="679.55" y="308.54" width="2.9" height="2.9"/><rect x="680.25" y="301.57" width="2.9" height="2.9"/><rect x="680.94" y="294.61" width="2.9" height="2.9"/><rect x="681.64" y="287.64" width="2.9" height="2.9"/><rect x="682.34" y="280.68" width="2.9" height="2.9"/></g>
<polyline points="85.0,48.2 106.0,47.6 141.0,47.2 175.7,47.0 210.5,46.8 245.0,46.3 280.3,44.8 292.6,44.2 314.8,43.0 327.2,41.8 349.6,39.7 361.8,38.4 384.5,35.8 396.8,34.8 419.3,33.3 431.5,33.0 454.3,32.2 466.6,30.7 489.3,28.6 501.8,28.8 524.1,27.6 536.2,26.9 541.2,28.5 553.7,26.2 562.0,26.5 567.9,25.1 571.5,27.6 575.9,29.1 578.8,27.0 581.4,28.5 583.6,48.4 584.8,74.0 586.5,96.7 587.6,113.8 588.5,125.1 589.3,135.1 591.3,128.0 592.2,110.9 593.3,96.7 595.0,76.8 596.1,64.0 597.8,45.6 599.3,56.9 601.3,64.0 603.5,59.8 605.5,56.9 607.5,69.7 609.8,76.8 612.0,81.1 614.0,88.2 615.5,110.9 616.9,128.0 618.0,134.3 620.3,147.9 621.9,163.8 623.7,175.1 625.4,183.6 627.5,200.5 629.1,223.2 630.9,248.2 632.0,258.4 633.2,275.5 633.9,290.0 635.2,301.1 636.5,325.3 637.6,340.2 639.9,343.9 645.4,345.7 646.9,353.2 648.2,364.3 649.1,366.2 655.0,366.5 684.0,366.5" fill="none" stroke="#ff0000" stroke-width="1.9" stroke-linejoin="round"/>
<g fill="#ff0000"><use href="#tri" x="85.6" y="48.2"/><use href="#tri" x="106.0" y="47.6"/><use href="#tri" x="118.8" y="47.5"/><use href="#tri" x="140.8" y="47.2"/><use href="#tri" x="153.7" y="47.1"/><use href="#tri" x="175.7" y="47.0"/><use href="#tri" x="188.5" y="46.9"/><use href="#tri" x="210.6" y="46.8"/><use href="#tri" x="223.4" y="46.6"/><use href="#tri" x="245.4" y="46.3"/><use href="#tri" x="258.2" y="45.7"/><use href="#tri" x="280.2" y="44.8"/><use href="#tri" x="293.1" y="44.2"/><use href="#tri" x="315.1" y="43.0"/><use href="#tri" x="327.9" y="41.7"/><use href="#tri" x="350.0" y="39.7"/><use href="#tri" x="362.8" y="38.3"/><use href="#tri" x="384.8" y="35.8"/><use href="#tri" x="397.6" y="34.7"/><use href="#tri" x="419.7" y="33.3"/><use href="#tri" x="432.5" y="33.0"/><use href="#tri" x="454.5" y="32.2"/><use href="#tri" x="467.3" y="30.6"/><use href="#tri" x="489.4" y="28.6"/><use href="#tri" x="502.2" y="28.8"/><use href="#tri" x="524.2" y="27.6"/><use href="#tri" x="537.0" y="27.2"/><use href="#tri" x="541.2" y="28.5"/><use href="#tri" x="553.7" y="26.2"/><use href="#tri" x="562.0" y="26.5"/><use href="#tri" x="567.9" y="25.1"/><use href="#tri" x="571.5" y="27.6"/><use href="#tri" x="575.9" y="29.1"/><use href="#tri" x="578.8" y="27.0"/><use href="#tri" x="581.4" y="28.5"/><use href="#tri" x="583.6" y="48.4"/><use href="#tri" x="584.8" y="74.0"/><use href="#tri" x="586.5" y="96.7"/><use href="#tri" x="587.6" y="113.8"/><use href="#tri" x="588.5" y="125.1"/><use href="#tri" x="589.3" y="135.1"/><use href="#tri" x="591.3" y="128.0"/><use href="#tri" x="592.2" y="110.9"/><use href="#tri" x="593.3" y="96.7"/><use href="#tri" x="595.0" y="76.8"/><use href="#tri" x="596.1" y="64.0"/><use href="#tri" x="597.8" y="45.6"/><use href="#tri" x="599.3" y="56.9"/><use href="#tri" x="601.3" y="64.0"/><use href="#tri" x="603.5" y="59.8"/><use href="#tri" x="605.5" y="56.9"/><use href="#tri" x="607.5" y="69.7"/><use href="#tri" x="609.8" y="76.8"/><use href="#tri" x="612.0" y="81.1"/><use href="#tri" x="614.0" y="88.2"/><use href="#tri" x="615.5" y="110.9"/><use href="#tri" x="616.9" y="128.0"/><use href="#tri" x="618.0" y="134.3"/><use href="#tri" x="620.3" y="147.9"/><use href="#tri" x="621.9" y="163.8"/><use href="#tri" x="623.7" y="175.1"/><use href="#tri" x="625.4" y="183.6"/><use href="#tri" x="627.5" y="200.5"/><use href="#tri" x="629.1" y="223.2"/><use href="#tri" x="630.9" y="248.2"/><use href="#tri" x="632.0" y="258.4"/><use href="#tri" x="633.2" y="275.5"/><use href="#tri" x="633.9" y="290.0"/><use href="#tri" x="635.2" y="301.1"/><use href="#tri" x="636.5" y="325.3"/><use href="#tri" x="637.6" y="340.2"/><use href="#tri" x="639.9" y="343.9"/><use href="#tri" x="645.4" y="345.7"/><use href="#tri" x="646.9" y="353.2"/><use href="#tri" x="648.2" y="364.3"/><use href="#tri" x="649.1" y="366.2"/></g>
<g fill="none" stroke="#ff8000" stroke-width="1.4" stroke-dasharray="4 3" stroke-linejoin="round"><polyline points="90.20,20.28 101.40,20.22"/><polyline points="110.60,20.19 114.20,20.19"/><polyline points="123.40,20.17 136.25,20.15"/><polyline points="145.45,20.14 149.05,20.13"/><polyline points="158.25,20.12 171.10,20.10"/><polyline points="180.30,20.09 183.90,20.08"/><polyline points="193.10,20.07 205.95,20.05"/><polyline points="215.15,20.03 218.75,20.03"/><polyline points="227.95,20.02 240.80,20.00"/><polyline points="250.00,19.98 253.60,19.98"/><polyline points="262.80,19.96 275.65,19.94"/><polyline points="284.85,19.93 288.45,19.92"/><polyline points="297.65,19.91 310.50,19.89"/><polyline points="319.70,19.88 323.30,19.87"/><polyline points="332.50,19.86 345.35,19.84"/><polyline points="354.55,19.82 358.15,19.82"/><polyline points="367.35,19.80 380.20,19.78"/><polyline points="389.40,19.77 393.00,19.76"/><polyline points="402.20,19.75 415.05,19.73"/><polyline points="424.25,19.72 427.85,19.71"/><polyline points="437.05,19.70 449.90,19.68"/><polyline points="459.10,19.66 462.70,19.66"/><polyline points="471.90,19.65 484.75,19.63"/><polyline points="493.95,19.61 497.55,19.61"/><polyline points="506.75,19.44 519.60,19.04"/><polyline points="528.79,19.17 532.41,19.38"/><polyline points="545.79,19.34 549.11,19.16"/><polyline points="557.39,21.65 559.81,23.45"/><polyline points="583.96,39.28 584.24,42.12"/><polyline points="585.34,51.25 585.66,53.45"/><polyline points="591.16,52.35 591.74,48.25"/><polyline points="613.75,55.50 613.95,56.50"/><polyline points="615.47,65.56 616.33,72.44"/><polyline points="617.69,81.53 618.21,84.47"/><polyline points="621.60,107.20 622.30,122.90"/><polyline points="622.87,132.08 623.33,137.72"/><polyline points="623.84,146.90 624.26,160.30"/><polyline points="624.55,169.50 625.05,184.40"/><polyline points="625.26,193.60 625.34,199.30"/><polyline points="627.50,217.60 627.50,226.40"/><polyline points="630.41,248.14 630.89,244.56"/><polyline points="632.21,235.46 632.89,231.14"/><polyline points="634.15,222.03 634.95,215.27"/><polyline points="635.84,215.29 636.66,226.51"/><polyline points="637.26,235.69 638.64,260.61"/><polyline points="639.07,269.80 640.03,294.90"/><polyline points="640.46,304.09 641.04,314.21"/><polyline points="641.56,323.39 642.34,337.41"/><polyline points="643.37,346.54 643.73,348.66"/></g>
<g fill="#fff" stroke="#ff8000" stroke-width="1.45"><use href="#trio" x="85.6" y="20.3"/><use href="#trio" x="106.0" y="20.2"/><use href="#trio" x="118.8" y="20.2"/><use href="#trio" x="140.8" y="20.1"/><use href="#trio" x="153.7" y="20.1"/><use href="#trio" x="175.7" y="20.1"/><use href="#trio" x="188.5" y="20.1"/><use href="#trio" x="210.6" y="20.0"/><use href="#trio" x="223.4" y="20.0"/><use href="#trio" x="245.4" y="20.0"/><use href="#trio" x="258.2" y="20.0"/><use href="#trio" x="280.2" y="19.9"/><use href="#trio" x="293.1" y="19.9"/><use href="#trio" x="315.1" y="19.9"/><use href="#trio" x="327.9" y="19.9"/><use href="#trio" x="350.0" y="19.8"/><use href="#trio" x="362.8" y="19.8"/><use href="#trio" x="384.8" y="19.8"/><use href="#trio" x="397.6" y="19.8"/><use href="#trio" x="419.7" y="19.7"/><use href="#trio" x="432.5" y="19.7"/><use href="#trio" x="454.5" y="19.7"/><use href="#trio" x="467.3" y="19.7"/><use href="#trio" x="489.4" y="19.6"/><use href="#trio" x="502.2" y="19.6"/><use href="#trio" x="524.2" y="18.9"/><use href="#trio" x="537.0" y="19.6"/><use href="#trio" x="541.2" y="19.6"/><use href="#trio" x="553.7" y="18.9"/><use href="#trio" x="563.5" y="26.2"/><use href="#trio" x="567.9" y="29.1"/><use href="#trio" x="571.5" y="23.7"/><use href="#trio" x="576.1" y="19.6"/><use href="#trio" x="579.4" y="21.2"/><use href="#trio" x="582.5" y="27.0"/><use href="#trio" x="583.5" y="34.7"/><use href="#trio" x="584.7" y="46.7"/><use href="#trio" x="586.3" y="58.0"/><use href="#trio" x="587.8" y="62.6"/><use href="#trio" x="589.3" y="65.5"/><use href="#trio" x="590.5" y="56.9"/><use href="#trio" x="592.4" y="43.7"/><use href="#trio" x="593.5" y="36.5"/><use href="#trio" x="595.6" y="28.2"/><use href="#trio" x="598.4" y="31.4"/><use href="#trio" x="602.7" y="32.4"/><use href="#trio" x="605.5" y="38.5"/><use href="#trio" x="608.8" y="40.6"/><use href="#trio" x="610.8" y="42.7"/><use href="#trio" x="612.8" y="51.0"/><use href="#trio" x="614.9" y="61.0"/><use href="#trio" x="616.9" y="77.0"/><use href="#trio" x="619.0" y="89.0"/><use href="#trio" x="620.6" y="96.5"/><use href="#trio" x="621.4" y="102.6"/><use href="#trio" x="622.5" y="127.5"/><use href="#trio" x="623.7" y="142.3"/><use href="#trio" x="624.4" y="164.9"/><use href="#trio" x="625.2" y="189.0"/><use href="#trio" x="625.4" y="203.9"/><use href="#trio" x="627.5" y="213.0"/><use href="#trio" x="627.5" y="231.0"/><use href="#trio" x="628.2" y="238.0"/><use href="#trio" x="629.1" y="245.9"/><use href="#trio" x="629.8" y="252.7"/><use href="#trio" x="631.5" y="240.0"/><use href="#trio" x="633.6" y="226.6"/><use href="#trio" x="635.5" y="210.7"/><use href="#trio" x="637.0" y="231.1"/><use href="#trio" x="638.9" y="265.2"/><use href="#trio" x="640.2" y="299.5"/><use href="#trio" x="641.3" y="318.8"/><use href="#trio" x="642.6" y="342.0"/><use href="#trio" x="644.5" y="353.2"/><use href="#trio" x="646.4" y="356.0"/><use href="#trio" x="650.1" y="360.6"/><use href="#trio" x="652.9" y="364.3"/><use href="#trio" x="655.7" y="366.2"/><use href="#trio" x="660.0" y="366.2"/><use href="#trio" x="665.5" y="366.2"/><use href="#trio" x="671.0" y="366.2"/><use href="#trio" x="676.5" y="366.2"/><use href="#trio" x="682.0" y="366.2"/></g>
</g>
<g style="font-family:'Liberation Sans',sans-serif" fill="#000">
<g transform="translate(65.20,0) scale(0.970,1)">
<path d="M763 0H583V1147Q518 1085 412.5 1023Q307 961 223 930V1104Q374 1175 487 1276Q600 1377 647 1472H763Z" transform="translate(-33.36,26.20) scale(0.01172,-0.01172)" fill="#000" stroke="#000" stroke-width="24.6"/>
<text x="-20.02" y="26.20" font-size="24.00" fill="#000" stroke="#000" stroke-width="0.29" textLength="6.68" lengthAdjust="spacingAndGlyphs">.</text>
<text x="-13.35" y="26.20" font-size="24.00" fill="#000" stroke="#000" stroke-width="0.29" textLength="13.36" lengthAdjust="spacingAndGlyphs">0</text>
</g>
<g transform="translate(65.20,0) scale(0.980,1)">
<text x="-33.36" y="201.20" font-size="24.00" fill="#000" stroke="#000" stroke-width="0.29" textLength="13.36" lengthAdjust="spacingAndGlyphs">0</text>
<text x="-20.02" y="201.20" font-size="24.00" fill="#000" stroke="#000" stroke-width="0.29" textLength="6.68" lengthAdjust="spacingAndGlyphs">.</text>
<text x="-13.35" y="201.20" font-size="24.00" fill="#000" stroke="#000" stroke-width="0.29" textLength="13.35" lengthAdjust="spacingAndGlyphs">5</text>
</g>
<g transform="translate(65.20,0) scale(0.985,1)">
<text x="-33.36" y="376.20" font-size="24.00" fill="#000" stroke="#000" stroke-width="0.29" textLength="13.36" lengthAdjust="spacingAndGlyphs">0</text>
<text x="-20.02" y="376.20" font-size="24.00" fill="#000" stroke="#000" stroke-width="0.29" textLength="6.68" lengthAdjust="spacingAndGlyphs">.</text>
<text x="-13.35" y="376.20" font-size="24.00" fill="#000" stroke="#000" stroke-width="0.29" textLength="13.36" lengthAdjust="spacingAndGlyphs">0</text>
</g>
<g transform="translate(205.10,0) scale(0.980,1)">
<text x="-16.68" y="407.40" font-size="24.00" fill="#000" stroke="#000" stroke-width="0.29" textLength="13.36" lengthAdjust="spacingAndGlyphs">0</text>
<text x="-3.33" y="407.40" font-size="24.00" fill="#000" stroke="#000" stroke-width="0.29" textLength="6.68" lengthAdjust="spacingAndGlyphs">.</text>
<path d="M763 0H583V1147Q518 1085 412.5 1023Q307 961 223 930V1104Q374 1175 487 1276Q600 1377 647 1472H763Z" transform="translate(3.33,407.40) scale(0.01172,-0.01172)" fill="#000" stroke="#000" stroke-width="24.6"/>
</g>
<g transform="translate(350.40,0) scale(1.000,1)">
<path d="M763 0H583V1147Q518 1085 412.5 1023Q307 961 223 930V1104Q374 1175 487 1276Q600 1377 647 1472H763Z" transform="translate(-6.67,407.40) scale(0.01172,-0.01172)" fill="#000" stroke="#000" stroke-width="24.6"/>
</g>
<g transform="translate(494.80,0) scale(1.000,1)">
<path d="M763 0H583V1147Q518 1085 412.5 1023Q307 961 223 930V1104Q374 1175 487 1276Q600 1377 647 1472H763Z" transform="translate(-13.35,407.40) scale(0.01172,-0.01172)" fill="#000" stroke="#000" stroke-width="24.6"/>
<text x="0.00" y="407.40" font-size="24.00" fill="#000" stroke="#000" stroke-width="0.29" textLength="13.36" lengthAdjust="spacingAndGlyphs">0</text>
</g>
<g transform="translate(640.40,0) scale(0.960,1)">
<path d="M763 0H583V1147Q518 1085 412.5 1023Q307 961 223 930V1104Q374 1175 487 1276Q600 1377 647 1472H763Z" transform="translate(-20.02,407.40) scale(0.01172,-0.01172)" fill="#000" stroke="#000" stroke-width="24.6"/>
<text x="-6.67" y="407.40" font-size="24.00" fill="#000" stroke="#000" stroke-width="0.29" textLength="13.36" lengthAdjust="spacingAndGlyphs">0</text>
<text x="6.67" y="407.40" font-size="24.00" fill="#000" stroke="#000" stroke-width="0.29" textLength="13.36" lengthAdjust="spacingAndGlyphs">0</text>
</g>
<text x="212.50" y="433.60" font-size="23.50" fill="#000" stroke="#000" stroke-width="0.28" textLength="205.20" lengthAdjust="spacingAndGlyphs">Free evolution time,</text>
<text x="424.20" y="433.60" font-size="23.50" fill="#000" stroke="#000" stroke-width="0.28" font-style="italic" textLength="14.36" lengthAdjust="spacingAndGlyphs">T</text>
<text x="438.50" y="440.00" font-size="16.00" fill="#000" stroke="#000" stroke-width="0.19" textLength="64.03" lengthAdjust="spacingAndGlyphs">FreeEvol</text>
<text x="509.00" y="433.60" font-size="23.50" fill="#000" stroke="#000" stroke-width="0.28" textLength="46.98" lengthAdjust="spacingAndGlyphs">(ms)</text>
<g transform="translate(21.60,321.00) rotate(-90)">
<text x="-0.39" y="0.00" font-size="23.50" fill="#000" stroke="#000" stroke-width="0.28" textLength="166.40" lengthAdjust="spacingAndGlyphs">Overlap fidelity |</text>
<text x="174.00" y="0.00" font-size="20.50" fill="#000" stroke="#000" stroke-width="0.25" textLength="14.62" lengthAdjust="spacingAndGlyphs">ψ</text>
<text x="187.00" y="5.60" font-size="16.00" fill="#000" stroke="#000" stroke-width="0.19" textLength="21.34" lengthAdjust="spacingAndGlyphs">Init</text>
<text x="208.95" y="0.00" font-size="23.50" fill="#000" stroke="#000" stroke-width="0.28" textLength="6.11" lengthAdjust="spacingAndGlyphs">|</text>
<text x="214.00" y="0.00" font-size="20.50" fill="#000" stroke="#000" stroke-width="0.25" textLength="14.62" lengthAdjust="spacingAndGlyphs">ψ</text>
<text x="229.00" y="5.60" font-size="16.00" fill="#000" stroke="#000" stroke-width="0.19" textLength="22.23" lengthAdjust="spacingAndGlyphs">Fin</text>
<text x="258.75" y="0.00" font-size="23.50" fill="#000" stroke="#000" stroke-width="0.28" textLength="6.11" lengthAdjust="spacingAndGlyphs">|</text>
<text x="264.30" y="-9.70" font-size="15.00" fill="#000" stroke="#000" stroke-width="0.18" textLength="8.34" lengthAdjust="spacingAndGlyphs">2</text>
<path d="M172.6,-15.6 L166.0,-6.4 L172.6,2.8" fill="none" stroke="#000" stroke-width="1.55" stroke-linejoin="miter"/>
<path d="M252.3,-15.8 L257.9,-6.5 L252.3,2.8" fill="none" stroke="#000" stroke-width="1.55" stroke-linejoin="miter"/>
</g>
<text x="99.30" y="101.40" font-size="20.20" fill="#000" stroke="#000" stroke-width="0.24" textLength="157.08" lengthAdjust="spacingAndGlyphs">Numerical model,</text>
<text x="100.00" y="126.60" font-size="20.20" fill="#000" stroke="#000" stroke-width="0.24" font-style="italic" textLength="14.59" lengthAdjust="spacingAndGlyphs">N</text>
<text x="118.80" y="126.60" font-size="20.20" fill="#000" stroke="#000" stroke-width="0.24" textLength="11.80" lengthAdjust="spacingAndGlyphs">=</text>
<text x="147.33" y="126.60" font-size="20.20" fill="#000" stroke="#000" stroke-width="0.24" textLength="70.00" lengthAdjust="spacingAndGlyphs">2 spins,</text>
<text x="99.20" y="151.80" font-size="20.20" fill="#000" stroke="#000" stroke-width="0.24" textLength="133.20" lengthAdjust="spacingAndGlyphs">homogeneous,</text>
<text x="100.50" y="179.40" font-size="20.20" fill="#000" stroke="#000" stroke-width="0.24" font-style="italic" textLength="12.34" lengthAdjust="spacingAndGlyphs">T</text>
<text x="111.50" y="183.90" font-size="14.30" fill="#000" stroke="#000" stroke-width="0.17" textLength="14.31" lengthAdjust="spacingAndGlyphs">Rf</text>
<text x="131.00" y="179.40" font-size="20.20" fill="#000" stroke="#000" stroke-width="0.24" textLength="67.19" lengthAdjust="spacingAndGlyphs">= 20 µs</text>
<path d="M763 0H583V1147Q518 1085 412.5 1023Q307 961 223 930V1104Q374 1175 487 1276Q600 1377 647 1472H763Z" transform="translate(136.10,126.60) scale(0.00986,-0.00986)" fill="#000" stroke="#000" stroke-width="24.6"/>
<rect x="90.5" y="242.5" width="240" height="119.3" fill="none" stroke="#555" stroke-width="1"/>
<text x="94.00" y="257.80" font-size="15.30" fill="#000" stroke="#000" stroke-width="0.18" textLength="100.31" lengthAdjust="spacingAndGlyphs">FID (0 pulses):</text>
<text x="132.20" y="276.40" font-size="15.30" fill="#008000" stroke="#008000" stroke-width="0.18" textLength="177.70" lengthAdjust="spacingAndGlyphs">full transverse polarization</text>
<text x="132.20" y="295.40" font-size="15.30" fill="#00dd00" stroke="#00dd00" stroke-width="0.18" textLength="163.27" lengthAdjust="spacingAndGlyphs">spin wave superposition</text>
<text x="94.00" y="315.60" font-size="15.30" fill="#000" stroke="#000" stroke-width="0.18" textLength="73.00" lengthAdjust="spacingAndGlyphs">CHASE-40</text>
<text x="171.70" y="315.60" font-size="15.30" fill="#000" stroke="#000" stroke-width="0.18" font-style="italic" textLength="8.52" lengthAdjust="spacingAndGlyphs">n</text>
<text x="180.00" y="319.60" font-size="10.50" fill="#000" stroke="#000" stroke-width="0.13" textLength="31.52" lengthAdjust="spacingAndGlyphs">Cycles</text>
<text x="215.00" y="315.60" font-size="15.30" fill="#000" stroke="#000" stroke-width="0.18" textLength="114.38" lengthAdjust="spacingAndGlyphs">= 4 (160 pulses):</text>
<text x="132.20" y="336.10" font-size="15.30" fill="#ff0000" stroke="#ff0000" stroke-width="0.18" textLength="177.70" lengthAdjust="spacingAndGlyphs">full transverse polarization</text>
<text x="132.20" y="355.60" font-size="15.30" fill="#ff8000" stroke="#ff8000" stroke-width="0.18" textLength="163.27" lengthAdjust="spacingAndGlyphs">spin wave superposition</text>
</g>
<line x1="92.5" y1="271.6" x2="127.5" y2="271.6" stroke="#008000" stroke-width="1.6"/>
<rect x="107.9" y="269.5" width="4.2" height="4.2" fill="#008000"/>
<line x1="92.5" y1="291" x2="127.5" y2="291" stroke="#00dd00" stroke-width="1.4" stroke-dasharray="4 3"/>
<rect x="108" y="289" width="4" height="4" fill="#fff" stroke="#00dd00" stroke-width="1.1"/>
<line x1="92.5" y1="332.1" x2="127.5" y2="332.1" stroke="#ff0000" stroke-width="1.7"/>
<use href="#tri" x="110" y="331" fill="#ff0000"/>
<line x1="92.5" y1="351.6" x2="127.5" y2="351.6" stroke="#ff8000" stroke-width="1.4" stroke-dasharray="4 3"/>
<use href="#tri" x="110" y="350.6" fill="#fff" stroke="#ff8000" stroke-width="1.3"/>
</svg>
</body></html>
